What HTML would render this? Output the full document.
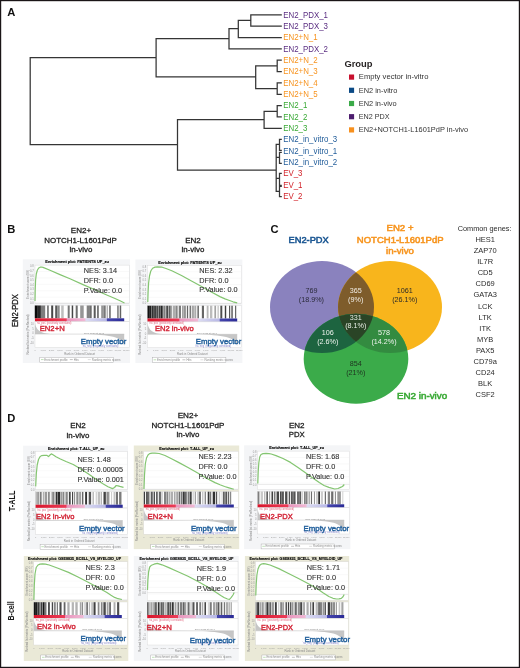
<!DOCTYPE html>
<html><head><meta charset="utf-8"><style>
html,body{margin:0;padding:0;background:#fff;}
svg{display:block;font-family:"Liberation Sans", sans-serif;filter:blur(0.3px);}
</style></head><body>
<svg width="520" height="668" viewBox="0 0 520 668">
<rect x="0" y="0" width="520" height="668" fill="#fff"/>
<path d="M30.20 57.50L30.20 144.70 M30.20 57.50L156.10 57.50 M30.20 144.70L177.50 144.70 M156.10 38.60L156.10 76.80 M156.10 38.60L229.00 38.60 M156.10 76.80L255.70 76.80 M229.00 28.50L229.00 48.85 M229.00 28.50L238.30 28.50 M229.00 48.85L281.20 48.85 M238.30 20.30L238.30 37.50 M238.30 20.30L250.80 20.30 M238.30 37.50L281.20 37.50 M250.80 14.80L250.80 26.15 M250.80 14.80L281.20 14.80 M250.80 26.15L281.20 26.15 M255.70 65.88L255.70 88.57 M255.70 65.88L277.20 65.88 M255.70 88.57L277.20 88.57 M277.20 60.20L277.20 71.55 M277.20 60.20L281.20 60.20 M277.20 71.55L281.20 71.55 M277.20 82.90L277.20 94.25 M277.20 82.90L281.20 82.90 M277.20 94.25L281.20 94.25 M177.50 119.50L177.50 170.00 M177.50 119.50L264.10 119.50 M177.50 170.00L276.20 170.00 M264.10 111.27L264.10 128.30 M264.10 111.27L277.20 111.27 M264.10 128.30L281.20 128.30 M277.20 105.60L277.20 116.95 M277.20 105.60L281.20 105.60 M277.20 116.95L281.20 116.95 M276.20 144.40L276.20 191.30 M276.20 144.40L279.50 144.40 M276.20 157.40L279.50 157.40 M276.20 178.40L279.50 178.40 M276.20 191.30L279.50 191.30 M279.50 139.30L279.50 150.30 M279.50 139.30L281.20 139.30 M279.50 150.30L281.20 150.30 M279.50 152.30L279.50 163.30 M279.50 152.30L281.20 152.30 M279.50 163.30L281.20 163.30 M279.50 173.40L279.50 185.30 M279.50 173.40L281.20 173.40 M279.50 185.30L281.20 185.30 M279.50 186.40L279.50 196.60 M279.50 186.40L281.20 186.40 M279.50 196.60L281.20 196.60" stroke="#353535" stroke-width="1.25" fill="none" stroke-linecap="square"/>
<text x="283.20" y="17.55" font-size="8.60" fill="#5a2d81" textLength="44.79" lengthAdjust="spacingAndGlyphs">EN2_PDX_1</text>
<text x="283.20" y="28.90" font-size="8.60" fill="#5a2d81" textLength="44.79" lengthAdjust="spacingAndGlyphs">EN2_PDX_3</text>
<text x="283.20" y="40.25" font-size="8.60" fill="#f7931e" textLength="34.47" lengthAdjust="spacingAndGlyphs">EN2+N_1</text>
<text x="283.20" y="51.60" font-size="8.60" fill="#5a2d81" textLength="44.79" lengthAdjust="spacingAndGlyphs">EN2_PDX_2</text>
<text x="283.20" y="62.95" font-size="8.60" fill="#f7931e" textLength="34.47" lengthAdjust="spacingAndGlyphs">EN2+N_2</text>
<text x="283.20" y="74.30" font-size="8.60" fill="#f7931e" textLength="34.47" lengthAdjust="spacingAndGlyphs">EN2+N_3</text>
<text x="283.20" y="85.65" font-size="8.60" fill="#f7931e" textLength="34.47" lengthAdjust="spacingAndGlyphs">EN2+N_4</text>
<text x="283.20" y="97.00" font-size="8.60" fill="#f7931e" textLength="34.47" lengthAdjust="spacingAndGlyphs">EN2+N_5</text>
<text x="283.20" y="108.35" font-size="8.60" fill="#39a935" textLength="24.15" lengthAdjust="spacingAndGlyphs">EN2_1</text>
<text x="283.20" y="119.70" font-size="8.60" fill="#39a935" textLength="24.15" lengthAdjust="spacingAndGlyphs">EN2_2</text>
<text x="283.20" y="131.05" font-size="8.60" fill="#39a935" textLength="24.15" lengthAdjust="spacingAndGlyphs">EN2_3</text>
<text x="283.20" y="142.40" font-size="8.60" fill="#1f5b99" textLength="54.01" lengthAdjust="spacingAndGlyphs">EN2_in_vitro_3</text>
<text x="283.20" y="153.75" font-size="8.60" fill="#1f5b99" textLength="54.01" lengthAdjust="spacingAndGlyphs">EN2_in_vitro_1</text>
<text x="283.20" y="165.10" font-size="8.60" fill="#1f5b99" textLength="54.01" lengthAdjust="spacingAndGlyphs">EN2_in_vitro_2</text>
<text x="283.20" y="176.45" font-size="8.60" fill="#d2232a" textLength="19.33" lengthAdjust="spacingAndGlyphs">EV_3</text>
<text x="283.20" y="187.80" font-size="8.60" fill="#d2232a" textLength="19.33" lengthAdjust="spacingAndGlyphs">EV_1</text>
<text x="283.20" y="199.15" font-size="8.60" fill="#d2232a" textLength="19.33" lengthAdjust="spacingAndGlyphs">EV_2</text>
<text x="344.40" y="67.10" font-size="9.40" fill="#231f20" font-weight="bold">Group</text>
<rect x="349" y="74.50" width="5.1" height="5.2" fill="#c8102e"/>
<text x="358.80" y="79.40" font-size="7.80" fill="#333" textLength="69.60" lengthAdjust="spacingAndGlyphs">Empty vector in-vitro</text>
<rect x="349" y="87.70" width="5.1" height="5.2" fill="#0b4a85"/>
<text x="358.80" y="92.60" font-size="7.80" fill="#333" textLength="38.60" lengthAdjust="spacingAndGlyphs">EN2 in-vitro</text>
<rect x="349" y="100.90" width="5.1" height="5.2" fill="#3aaa48"/>
<text x="358.80" y="105.80" font-size="7.80" fill="#333" textLength="37.80" lengthAdjust="spacingAndGlyphs">EN2 in-vivo</text>
<rect x="349" y="114.10" width="5.1" height="5.2" fill="#4d1d6e"/>
<text x="358.80" y="119.00" font-size="7.80" fill="#333" textLength="30.80" lengthAdjust="spacingAndGlyphs">EN2 PDX</text>
<rect x="349" y="127.30" width="5.1" height="5.2" fill="#f7901e"/>
<text x="358.80" y="132.20" font-size="7.80" fill="#333" textLength="109.30" lengthAdjust="spacingAndGlyphs">EN2+NOTCH1-L1601PdP in-vivo</text>
<text x="7.20" y="15.70" font-size="11.20" fill="#111" font-weight="bold">A</text>
<text x="7.20" y="233.40" font-size="11.20" fill="#111" font-weight="bold">B</text>
<text x="270.60" y="233.30" font-size="11.20" fill="#111" font-weight="bold">C</text>
<text x="7.30" y="422.00" font-size="11.20" fill="#111" font-weight="bold">D</text>
<text x="80.95" y="233.20" font-size="8.00" fill="#1a1a1a" textLength="20.30" lengthAdjust="spacingAndGlyphs" stroke="#1a1a1a" stroke-width="0.28" text-anchor="middle">EN2+</text>
<text x="80.50" y="242.80" font-size="8.00" fill="#1a1a1a" textLength="72.40" lengthAdjust="spacingAndGlyphs" stroke="#1a1a1a" stroke-width="0.28" text-anchor="middle">NOTCH1-L1601PdP</text>
<text x="80.85" y="252.30" font-size="8.00" fill="#1a1a1a" textLength="22.90" lengthAdjust="spacingAndGlyphs" stroke="#1a1a1a" stroke-width="0.28" text-anchor="middle">in-vivo</text>
<text x="193.00" y="242.80" font-size="8.00" fill="#1a1a1a" textLength="15.60" lengthAdjust="spacingAndGlyphs" stroke="#1a1a1a" stroke-width="0.28" text-anchor="middle">EN2</text>
<text x="193.00" y="252.30" font-size="8.00" fill="#1a1a1a" textLength="22.90" lengthAdjust="spacingAndGlyphs" stroke="#1a1a1a" stroke-width="0.28" text-anchor="middle">in-vivo</text>
<text x="78.00" y="428.00" font-size="8.00" fill="#1a1a1a" textLength="15.60" lengthAdjust="spacingAndGlyphs" stroke="#1a1a1a" stroke-width="0.28" text-anchor="middle">EN2</text>
<text x="78.00" y="437.50" font-size="8.00" fill="#1a1a1a" textLength="22.90" lengthAdjust="spacingAndGlyphs" stroke="#1a1a1a" stroke-width="0.28" text-anchor="middle">in-vivo</text>
<text x="188.00" y="418.40" font-size="8.00" fill="#1a1a1a" textLength="20.60" lengthAdjust="spacingAndGlyphs" stroke="#1a1a1a" stroke-width="0.28" text-anchor="middle">EN2+</text>
<text x="188.00" y="428.00" font-size="8.00" fill="#1a1a1a" textLength="72.80" lengthAdjust="spacingAndGlyphs" stroke="#1a1a1a" stroke-width="0.28" text-anchor="middle">NOTCH1-L1601PdP</text>
<text x="188.00" y="437.40" font-size="8.00" fill="#1a1a1a" textLength="22.90" lengthAdjust="spacingAndGlyphs" stroke="#1a1a1a" stroke-width="0.28" text-anchor="middle">in-vivo</text>
<text x="296.70" y="428.00" font-size="8.00" fill="#1a1a1a" textLength="15.60" lengthAdjust="spacingAndGlyphs" stroke="#1a1a1a" stroke-width="0.28" text-anchor="middle">EN2</text>
<text x="296.70" y="437.40" font-size="8.00" fill="#1a1a1a" textLength="15.90" lengthAdjust="spacingAndGlyphs" stroke="#1a1a1a" stroke-width="0.28" text-anchor="middle">PDX</text>
<text x="0" y="0" font-size="8.20" fill="#1a1a1a" stroke="#1a1a1a" stroke-width="0.30" text-anchor="middle" textLength="33.00" lengthAdjust="spacingAndGlyphs" transform="translate(17.50 310.60) rotate(-90)">EN2-PDX</text>
<text x="0" y="0" font-size="8.40" font-weight="bold" fill="#1a1a1a" stroke="#1a1a1a" stroke-width="0.05" text-anchor="middle" textLength="20.60" lengthAdjust="spacingAndGlyphs" transform="translate(14.60 500.90) rotate(-90)">T-ALL</text>
<text x="0" y="0" font-size="8.40" font-weight="bold" fill="#1a1a1a" stroke="#1a1a1a" stroke-width="0.05" text-anchor="middle" textLength="19.20" lengthAdjust="spacingAndGlyphs" transform="translate(14.30 610.90) rotate(-90)">B-cell</text>
<defs><clipPath id="cP"><ellipse cx="322" cy="307" rx="52" ry="46"/></clipPath><clipPath id="cO"><ellipse cx="390" cy="307" rx="52" ry="46"/></clipPath></defs>
<ellipse cx="322" cy="307" rx="52" ry="46" fill="#8a82be"/>
<ellipse cx="390" cy="307" rx="52" ry="46" fill="#f8b51c"/>
<ellipse cx="356" cy="358.7" rx="52.3" ry="45" fill="#3bab4a"/>
<g clip-path="url(#cP)"><ellipse cx="390" cy="307" rx="52" ry="46" fill="#7e5c2b"/><ellipse cx="356" cy="358.7" rx="52.3" ry="45" fill="#1d6440"/></g>
<g clip-path="url(#cO)"><ellipse cx="356" cy="358.7" rx="52.3" ry="45" fill="#338b40"/></g>
<g clip-path="url(#cO)"><g clip-path="url(#cP)"><ellipse cx="356" cy="358.7" rx="52.3" ry="45" fill="#2a4426"/></g></g>
<text x="311.40" y="293.30" font-size="7.20" fill="#2a2a3a" text-anchor="middle">769</text>
<text x="311.40" y="302.10" font-size="7.20" fill="#2a2a3a" text-anchor="middle">(18.9%)</text>
<text x="355.70" y="293.30" font-size="7.20" fill="#f2eee6" text-anchor="middle">365</text>
<text x="355.70" y="302.10" font-size="7.20" fill="#f2eee6" text-anchor="middle">(9%)</text>
<text x="404.80" y="293.10" font-size="7.20" fill="#2a2a2a" text-anchor="middle">1061</text>
<text x="404.80" y="301.90" font-size="7.20" fill="#2a2a2a" text-anchor="middle">(26.1%)</text>
<text x="355.80" y="319.60" font-size="7.20" fill="#e8efe6" text-anchor="middle">331</text>
<text x="355.80" y="328.40" font-size="7.20" fill="#e8efe6" text-anchor="middle">(8.1%)</text>
<text x="327.80" y="335.00" font-size="7.20" fill="#eef3ee" text-anchor="middle">106</text>
<text x="327.80" y="343.80" font-size="7.20" fill="#eef3ee" text-anchor="middle">(2.6%)</text>
<text x="384.00" y="335.00" font-size="7.20" fill="#eef3ee" text-anchor="middle">578</text>
<text x="384.00" y="343.80" font-size="7.20" fill="#eef3ee" text-anchor="middle">(14.2%)</text>
<text x="355.80" y="366.00" font-size="7.20" fill="#1f3320" text-anchor="middle">854</text>
<text x="355.80" y="374.80" font-size="7.20" fill="#1f3320" text-anchor="middle">(21%)</text>
<text x="308.60" y="243.00" font-size="9.40" fill="#1a5692" textLength="40.20" lengthAdjust="spacingAndGlyphs" stroke="#1a5692" stroke-width="0.55" text-anchor="middle">EN2-PDX</text>
<text x="400.00" y="231.20" font-size="9.60" fill="#f7941d" textLength="27.10" lengthAdjust="spacingAndGlyphs" stroke="#f7941d" stroke-width="0.55" text-anchor="middle">EN2 +</text>
<text x="400.20" y="242.50" font-size="9.60" fill="#f7941d" textLength="86.70" lengthAdjust="spacingAndGlyphs" stroke="#f7941d" stroke-width="0.55" text-anchor="middle">NOTCH1-L1601PdP</text>
<text x="400.00" y="253.50" font-size="9.60" fill="#f7941d" textLength="27.90" lengthAdjust="spacingAndGlyphs" stroke="#f7941d" stroke-width="0.55" text-anchor="middle">in-vivo</text>
<text x="396.90" y="398.80" font-size="9.60" fill="#39a935" textLength="50.30" lengthAdjust="spacingAndGlyphs" stroke="#39a935" stroke-width="0.55">EN2 in-vivo</text>
<text x="484.60" y="231.30" font-size="7.90" fill="#2b2b2b" textLength="53.92" lengthAdjust="spacingAndGlyphs" text-anchor="middle">Common genes:</text>
<text x="485.20" y="242.10" font-size="8.10" fill="#2b2b2b" textLength="19.59" lengthAdjust="spacingAndGlyphs" text-anchor="middle">HES1</text>
<text x="485.20" y="253.17" font-size="8.10" fill="#2b2b2b" textLength="22.93" lengthAdjust="spacingAndGlyphs" text-anchor="middle">ZAP70</text>
<text x="485.20" y="264.24" font-size="8.10" fill="#2b2b2b" textLength="15.84" lengthAdjust="spacingAndGlyphs" text-anchor="middle">IL7R</text>
<text x="485.20" y="275.31" font-size="8.10" fill="#2b2b2b" textLength="15.00" lengthAdjust="spacingAndGlyphs" text-anchor="middle">CD5</text>
<text x="485.20" y="286.38" font-size="8.10" fill="#2b2b2b" textLength="19.17" lengthAdjust="spacingAndGlyphs" text-anchor="middle">CD69</text>
<text x="485.20" y="297.45" font-size="8.10" fill="#2b2b2b" textLength="23.48" lengthAdjust="spacingAndGlyphs" text-anchor="middle">GATA3</text>
<text x="485.20" y="308.52" font-size="8.10" fill="#2b2b2b" textLength="14.59" lengthAdjust="spacingAndGlyphs" text-anchor="middle">LCK</text>
<text x="485.20" y="319.59" font-size="8.10" fill="#2b2b2b" textLength="13.20" lengthAdjust="spacingAndGlyphs" text-anchor="middle">LTK</text>
<text x="485.20" y="330.66" font-size="8.10" fill="#2b2b2b" textLength="11.67" lengthAdjust="spacingAndGlyphs" text-anchor="middle">ITK</text>
<text x="485.20" y="341.73" font-size="8.10" fill="#2b2b2b" textLength="16.25" lengthAdjust="spacingAndGlyphs" text-anchor="middle">MYB</text>
<text x="485.20" y="352.80" font-size="8.10" fill="#2b2b2b" textLength="18.62" lengthAdjust="spacingAndGlyphs" text-anchor="middle">PAX5</text>
<text x="485.20" y="363.87" font-size="8.10" fill="#2b2b2b" textLength="23.34" lengthAdjust="spacingAndGlyphs" text-anchor="middle">CD79a</text>
<text x="485.20" y="374.94" font-size="8.10" fill="#2b2b2b" textLength="19.17" lengthAdjust="spacingAndGlyphs" text-anchor="middle">CD24</text>
<text x="485.20" y="386.01" font-size="8.10" fill="#2b2b2b" textLength="14.18" lengthAdjust="spacingAndGlyphs" text-anchor="middle">BLK</text>
<text x="485.20" y="397.08" font-size="8.10" fill="#2b2b2b" textLength="19.17" lengthAdjust="spacingAndGlyphs" text-anchor="middle">CSF2</text>
<defs><linearGradient id="grad" x1="0" x2="1" y1="0" y2="0"><stop offset="0" stop-color="#d8142a"/><stop offset="0.35" stop-color="#ec3c58"/><stop offset="0.36" stop-color="#e894bc"/><stop offset="0.56" stop-color="#f0b8d4"/><stop offset="0.57" stop-color="#dcdcf2"/><stop offset="0.8" stop-color="#b8b8e6"/><stop offset="0.81" stop-color="#4646ae"/><stop offset="1" stop-color="#2a2a96"/></linearGradient></defs>
<rect x="22.80" y="259.30" width="107.20" height="103.70" fill="#f4f5f7"/>
<rect x="35.00" y="265.10" width="94.20" height="38.50" fill="#fff" stroke="#d4d4d4" stroke-width="0.4"/>
<line x1="35.00" y1="271.52" x2="129.20" y2="271.52" stroke="#f0f0f0" stroke-width="0.4"/>
<line x1="35.00" y1="277.93" x2="129.20" y2="277.93" stroke="#f0f0f0" stroke-width="0.4"/>
<line x1="35.00" y1="284.35" x2="129.20" y2="284.35" stroke="#f0f0f0" stroke-width="0.4"/>
<line x1="35.00" y1="290.77" x2="129.20" y2="290.77" stroke="#f0f0f0" stroke-width="0.4"/>
<line x1="35.00" y1="297.18" x2="129.20" y2="297.18" stroke="#f0f0f0" stroke-width="0.4"/>
<line x1="35.00" y1="303.10" x2="129.20" y2="303.10" stroke="#cfcfcf" stroke-width="0.4"/>
<text x="33.80" y="267.30" font-size="2.70" fill="#999" text-anchor="end">0.8</text>
<text x="33.80" y="271.90" font-size="2.70" fill="#999" text-anchor="end">0.7</text>
<text x="33.80" y="276.50" font-size="2.70" fill="#999" text-anchor="end">0.6</text>
<text x="33.80" y="281.10" font-size="2.70" fill="#999" text-anchor="end">0.5</text>
<text x="33.80" y="285.70" font-size="2.70" fill="#999" text-anchor="end">0.4</text>
<text x="33.80" y="290.30" font-size="2.70" fill="#999" text-anchor="end">0.3</text>
<text x="33.80" y="294.90" font-size="2.70" fill="#999" text-anchor="end">0.2</text>
<text x="33.80" y="299.50" font-size="2.70" fill="#999" text-anchor="end">0.1</text>
<text x="33.80" y="304.10" font-size="2.70" fill="#999" text-anchor="end">0.0</text>
<text x="0" y="0" font-size="2.9" fill="#888" text-anchor="middle" transform="translate(28.90 284.35) rotate(-90)">Enrichment score (ES)</text>
<text x="77.10" y="263.40" font-size="4.40" fill="#000" textLength="63.60" lengthAdjust="spacingAndGlyphs" stroke="#000" stroke-width="0.15" font-weight="bold" text-anchor="middle">Enrichment plot: PATIENTS UP_zu</text>
<polyline points="35.00,301.00 35.20,290.00 35.60,280.00 36.30,274.00 37.30,270.30 38.70,268.00 40.20,267.20 41.50,267.00 43.00,267.40 50.00,270.30 60.00,274.60 70.00,278.80 83.00,284.60 95.00,289.80 105.00,294.20 115.00,298.50 120.00,300.80 124.50,303.00" fill="none" stroke="#84c571" stroke-width="1.2" stroke-linejoin="round"/>
<text x="83.80" y="272.90" font-size="7.80" fill="#333" textLength="33.27" lengthAdjust="spacingAndGlyphs" stroke="#333" stroke-width="0.12">NES: 3.14</text>
<text x="83.80" y="282.70" font-size="7.80" fill="#333" textLength="29.21" lengthAdjust="spacingAndGlyphs" stroke="#333" stroke-width="0.12">DFR: 0.0</text>
<text x="83.80" y="292.50" font-size="7.80" fill="#333" textLength="38.29" lengthAdjust="spacingAndGlyphs" stroke="#333" stroke-width="0.12">P.Value: 0.0</text>
<rect x="35.00" y="305.30" width="94.20" height="16.20" fill="#fff" stroke="#d4d4d4" stroke-width="0.4"/>
<rect x="34.80" y="305.50" width="3.00" height="12.80" fill="rgb(10,10,10)"/>
<rect x="37.80" y="305.50" width="3.10" height="12.80" fill="rgb(40,40,40)"/>
<rect x="40.90" y="305.50" width="4.30" height="12.80" fill="rgb(125,125,125)"/>
<rect x="47.20" y="305.50" width="1.50" height="12.80" fill="rgb(100,100,100)"/>
<rect x="51.20" y="305.50" width="2.00" height="12.80" fill="rgb(70,70,70)"/>
<rect x="55.20" y="305.50" width="2.00" height="12.80" fill="rgb(90,90,90)"/>
<rect x="57.20" y="305.50" width="2.50" height="12.80" fill="rgb(140,140,140)"/>
<rect x="61.20" y="305.50" width="2.50" height="12.80" fill="rgb(190,190,190)"/>
<rect x="67.70" y="305.50" width="2.00" height="12.80" fill="rgb(120,120,120)"/>
<rect x="71.70" y="305.50" width="1.50" height="12.80" fill="rgb(70,70,70)"/>
<rect x="75.70" y="305.50" width="2.00" height="12.80" fill="rgb(110,110,110)"/>
<rect x="80.20" y="305.50" width="3.50" height="12.80" fill="rgb(150,150,150)"/>
<rect x="86.70" y="305.50" width="2.50" height="12.80" fill="rgb(130,130,130)"/>
<rect x="89.20" y="305.50" width="2.50" height="12.80" fill="rgb(110,110,110)"/>
<rect x="93.70" y="305.50" width="2.00" height="12.80" fill="rgb(90,90,90)"/>
<rect x="97.20" y="305.50" width="1.50" height="12.80" fill="rgb(90,90,90)"/>
<rect x="101.20" y="305.50" width="2.20" height="12.80" fill="rgb(150,150,150)"/>
<rect x="103.40" y="305.50" width="2.30" height="12.80" fill="rgb(120,120,120)"/>
<rect x="106.70" y="305.50" width="1.00" height="12.80" fill="rgb(150,150,150)"/>
<rect x="109.20" y="305.50" width="1.50" height="12.80" fill="rgb(100,100,100)"/>
<rect x="117.20" y="305.50" width="1.50" height="12.80" fill="rgb(120,120,120)"/>
<rect x="119.70" y="305.50" width="1.50" height="12.80" fill="rgb(100,100,100)"/>
<rect x="35.00" y="318.30" width="89.20" height="3.20" fill="url(#grad)"/>
<rect x="35.00" y="321.70" width="94.20" height="25.60" fill="#fff" stroke="#d4d4d4" stroke-width="0.4"/>
<path d="M35.00 322.30 Q35.80 333.50 50.16 333.90 L82.28 334.10 C110.82 334.90 122.42 336.60 124.20 346.10 L124.20 334.10 L35.00 334.10 Z" fill="#c6c6c6"/>
<line x1="35.00" y1="334.10" x2="124.20" y2="334.10" stroke="#bdbdbd" stroke-width="0.5"/>
<text x="33.80" y="324.90" font-size="2.70" fill="#999" text-anchor="end">10</text>
<text x="33.80" y="329.60" font-size="2.70" fill="#999" text-anchor="end">5</text>
<text x="33.80" y="334.30" font-size="2.70" fill="#999" text-anchor="end">0</text>
<text x="33.80" y="339.00" font-size="2.70" fill="#999" text-anchor="end">-5</text>
<text x="33.80" y="343.70" font-size="2.70" fill="#999" text-anchor="end">-10</text>
<text x="0" y="0" font-size="2.9" fill="#888" text-anchor="middle" transform="translate(28.90 334.50) rotate(-90)">Ranked list metric (PreRanked)</text>
<text x="36.50" y="324.10" font-size="2.60" fill="#e0607a">'na_pos' (positively correlated)</text>
<text x="84.06" y="333.50" font-size="2.40" fill="#888">Zero cross at 6747</text>
<text x="82.28" y="346.70" font-size="2.60" fill="#8080c8">'na_neg' (negatively correlated)</text>
<text x="39.70" y="331.30" font-size="7.90" fill="#d42a3c" textLength="25.00" lengthAdjust="spacingAndGlyphs" stroke="#d42a3c" stroke-width="0.42">EN2+N</text>
<text x="126.30" y="344.00" font-size="7.80" fill="#22609c" textLength="45.60" lengthAdjust="spacingAndGlyphs" stroke="#22609c" stroke-width="0.42" text-anchor="end">Empty vector</text>
<text x="35.00" y="351.10" font-size="2.20" fill="#999" text-anchor="middle">0</text>
<text x="43.29" y="351.10" font-size="2.20" fill="#999" text-anchor="middle">1,000</text>
<text x="51.58" y="351.10" font-size="2.20" fill="#999" text-anchor="middle">2,000</text>
<text x="59.87" y="351.10" font-size="2.20" fill="#999" text-anchor="middle">3,000</text>
<text x="68.16" y="351.10" font-size="2.20" fill="#999" text-anchor="middle">4,000</text>
<text x="76.45" y="351.10" font-size="2.20" fill="#999" text-anchor="middle">5,000</text>
<text x="84.75" y="351.10" font-size="2.20" fill="#999" text-anchor="middle">6,000</text>
<text x="93.04" y="351.10" font-size="2.20" fill="#999" text-anchor="middle">7,000</text>
<text x="101.33" y="351.10" font-size="2.20" fill="#999" text-anchor="middle">8,000</text>
<text x="109.62" y="351.10" font-size="2.20" fill="#999" text-anchor="middle">9,000</text>
<text x="117.91" y="351.10" font-size="2.20" fill="#999" text-anchor="middle">10,000</text>
<text x="126.20" y="351.10" font-size="2.20" fill="#999" text-anchor="middle">11,000</text>
<text x="79.60" y="354.50" font-size="2.80" fill="#888" text-anchor="middle">Rank in Ordered Dataset</text>
<rect x="39.80" y="357.30" width="73.50" height="4.9" fill="#fff" stroke="#a0a0a0" stroke-width="0.4"/>
<line x1="41.00" y1="359.60" x2="43.60" y2="359.60" stroke="#7fc46e" stroke-width="0.5"/>
<text x="44.30" y="360.70" font-size="2.90" fill="#8a8a8a">Enrichment profile</text>
<line x1="69.80" y1="359.60" x2="72.80" y2="359.60" stroke="#666" stroke-width="0.4"/>
<text x="73.80" y="360.70" font-size="2.90" fill="#8a8a8a">Hits</text>
<line x1="87.80" y1="359.60" x2="90.80" y2="359.60" stroke="#aaa" stroke-width="0.4"/>
<text x="91.80" y="360.70" font-size="2.90" fill="#8a8a8a">Ranking metric scores</text>
<rect x="135.40" y="259.50" width="107.00" height="103.50" fill="#f4f5f7"/>
<rect x="147.50" y="265.30" width="94.10" height="38.50" fill="#fff" stroke="#d4d4d4" stroke-width="0.4"/>
<line x1="147.50" y1="271.72" x2="241.60" y2="271.72" stroke="#f0f0f0" stroke-width="0.4"/>
<line x1="147.50" y1="278.13" x2="241.60" y2="278.13" stroke="#f0f0f0" stroke-width="0.4"/>
<line x1="147.50" y1="284.55" x2="241.60" y2="284.55" stroke="#f0f0f0" stroke-width="0.4"/>
<line x1="147.50" y1="290.97" x2="241.60" y2="290.97" stroke="#f0f0f0" stroke-width="0.4"/>
<line x1="147.50" y1="297.38" x2="241.60" y2="297.38" stroke="#f0f0f0" stroke-width="0.4"/>
<line x1="147.50" y1="303.30" x2="241.60" y2="303.30" stroke="#cfcfcf" stroke-width="0.4"/>
<text x="146.30" y="267.50" font-size="2.70" fill="#999" text-anchor="end">0.8</text>
<text x="146.30" y="272.10" font-size="2.70" fill="#999" text-anchor="end">0.7</text>
<text x="146.30" y="276.70" font-size="2.70" fill="#999" text-anchor="end">0.6</text>
<text x="146.30" y="281.30" font-size="2.70" fill="#999" text-anchor="end">0.5</text>
<text x="146.30" y="285.90" font-size="2.70" fill="#999" text-anchor="end">0.4</text>
<text x="146.30" y="290.50" font-size="2.70" fill="#999" text-anchor="end">0.3</text>
<text x="146.30" y="295.10" font-size="2.70" fill="#999" text-anchor="end">0.2</text>
<text x="146.30" y="299.70" font-size="2.70" fill="#999" text-anchor="end">0.1</text>
<text x="146.30" y="304.30" font-size="2.70" fill="#999" text-anchor="end">0.0</text>
<text x="0" y="0" font-size="2.9" fill="#888" text-anchor="middle" transform="translate(141.40 284.55) rotate(-90)">Enrichment score (ES)</text>
<text x="190.00" y="263.60" font-size="4.40" fill="#000" textLength="63.40" lengthAdjust="spacingAndGlyphs" stroke="#000" stroke-width="0.15" font-weight="bold" text-anchor="middle">Enrichment plot: PATIENTS UP_zu</text>
<polyline points="147.80,302.00 148.10,292.00 148.60,283.00 149.50,276.00 150.80,271.00 152.60,268.20 155.00,267.10 157.40,266.80 162.20,267.20 166.00,268.50 171.80,270.70 181.50,275.50 191.00,280.70 200.70,286.00 210.00,291.30 219.90,296.60 225.00,298.90 229.50,300.50 233.00,301.80 237.20,302.80" fill="none" stroke="#84c571" stroke-width="1.2" stroke-linejoin="round"/>
<text x="199.30" y="273.30" font-size="7.80" fill="#333" textLength="33.27" lengthAdjust="spacingAndGlyphs" stroke="#333" stroke-width="0.12">NES: 2.32</text>
<text x="199.30" y="282.60" font-size="7.80" fill="#333" textLength="29.21" lengthAdjust="spacingAndGlyphs" stroke="#333" stroke-width="0.12">DFR: 0.0</text>
<text x="199.30" y="292.40" font-size="7.80" fill="#333" textLength="38.29" lengthAdjust="spacingAndGlyphs" stroke="#333" stroke-width="0.12">P.Value: 0.0</text>
<rect x="147.50" y="305.50" width="94.10" height="16.20" fill="#fff" stroke="#d4d4d4" stroke-width="0.4"/>
<rect x="147.50" y="305.70" width="2.33" height="12.80" fill="rgb(17,17,17)"/>
<rect x="149.86" y="305.70" width="1.44" height="12.80" fill="rgb(31,31,31)"/>
<rect x="151.52" y="305.70" width="1.90" height="12.80" fill="rgb(49,49,49)"/>
<rect x="153.50" y="305.70" width="1.22" height="12.80" fill="rgb(14,14,14)"/>
<rect x="154.90" y="305.70" width="1.14" height="12.80" fill="rgb(65,65,65)"/>
<rect x="156.23" y="305.70" width="2.11" height="12.80" fill="rgb(75,75,75)"/>
<rect x="158.62" y="305.70" width="1.72" height="12.80" fill="rgb(66,66,66)"/>
<rect x="160.48" y="305.70" width="2.25" height="12.80" fill="rgb(37,37,37)"/>
<rect x="163.28" y="305.70" width="2.30" height="12.80" fill="rgb(127,127,127)"/>
<rect x="166.21" y="305.70" width="2.23" height="12.80" fill="rgb(72,72,72)"/>
<rect x="169.28" y="305.70" width="1.25" height="12.80" fill="rgb(36,36,36)"/>
<rect x="170.80" y="305.70" width="1.16" height="12.80" fill="rgb(160,160,160)"/>
<rect x="172.73" y="305.70" width="2.40" height="12.80" fill="rgb(173,173,173)"/>
<rect x="175.40" y="305.70" width="2.24" height="12.80" fill="rgb(136,136,136)"/>
<rect x="178.74" y="305.70" width="2.26" height="12.80" fill="rgb(123,123,123)"/>
<rect x="182.18" y="305.70" width="1.43" height="12.80" fill="rgb(144,144,144)"/>
<rect x="183.86" y="305.70" width="2.03" height="12.80" fill="rgb(148,148,148)"/>
<rect x="186.87" y="305.70" width="1.27" height="12.80" fill="rgb(101,101,101)"/>
<rect x="189.53" y="305.70" width="1.65" height="12.80" fill="rgb(120,120,120)"/>
<rect x="192.17" y="305.70" width="1.58" height="12.80" fill="rgb(148,148,148)"/>
<rect x="194.28" y="305.70" width="1.99" height="12.80" fill="rgb(172,172,172)"/>
<rect x="197.36" y="305.70" width="1.63" height="12.80" fill="rgb(116,116,116)"/>
<rect x="201.86" y="305.70" width="2.12" height="12.80" fill="rgb(102,102,102)"/>
<rect x="206.71" y="305.70" width="1.82" height="12.80" fill="rgb(182,182,182)"/>
<rect x="210.01" y="305.70" width="2.34" height="12.80" fill="rgb(189,189,189)"/>
<rect x="214.39" y="305.70" width="1.66" height="12.80" fill="rgb(164,164,164)"/>
<rect x="217.53" y="305.70" width="1.21" height="12.80" fill="rgb(191,191,191)"/>
<rect x="220.35" y="305.70" width="1.93" height="12.80" fill="rgb(79,79,79)"/>
<rect x="224.80" y="305.70" width="1.41" height="12.80" fill="rgb(62,62,62)"/>
<rect x="229.01" y="305.70" width="1.19" height="12.80" fill="rgb(87,87,87)"/>
<rect x="231.13" y="305.70" width="1.88" height="12.80" fill="rgb(129,129,129)"/>
<rect x="235.11" y="305.70" width="1.09" height="12.80" fill="rgb(87,87,87)"/>
<rect x="147.50" y="318.50" width="89.70" height="3.20" fill="url(#grad)"/>
<rect x="147.50" y="321.90" width="94.10" height="25.60" fill="#fff" stroke="#d4d4d4" stroke-width="0.4"/>
<path d="M147.50 322.50 Q148.30 333.70 162.75 334.10 L195.04 334.30 C223.75 335.10 235.41 336.80 237.20 346.30 L237.20 334.30 L147.50 334.30 Z" fill="#c6c6c6"/>
<line x1="147.50" y1="334.30" x2="237.20" y2="334.30" stroke="#bdbdbd" stroke-width="0.5"/>
<text x="146.30" y="325.10" font-size="2.70" fill="#999" text-anchor="end">10</text>
<text x="146.30" y="329.80" font-size="2.70" fill="#999" text-anchor="end">5</text>
<text x="146.30" y="334.50" font-size="2.70" fill="#999" text-anchor="end">0</text>
<text x="146.30" y="339.20" font-size="2.70" fill="#999" text-anchor="end">-5</text>
<text x="146.30" y="343.90" font-size="2.70" fill="#999" text-anchor="end">-10</text>
<text x="0" y="0" font-size="2.9" fill="#888" text-anchor="middle" transform="translate(141.40 334.70) rotate(-90)">Ranked list metric (PreRanked)</text>
<text x="149.00" y="324.30" font-size="2.60" fill="#e0607a">'na_pos' (positively correlated)</text>
<text x="196.84" y="333.70" font-size="2.40" fill="#888">Zero cross at 6747</text>
<text x="195.04" y="346.90" font-size="2.60" fill="#8080c8">'na_neg' (negatively correlated)</text>
<text x="154.90" y="330.80" font-size="7.90" fill="#d42a3c" textLength="38.90" lengthAdjust="spacingAndGlyphs" stroke="#d42a3c" stroke-width="0.42">EN2 in-vivo</text>
<text x="241.30" y="344.00" font-size="7.80" fill="#22609c" textLength="45.60" lengthAdjust="spacingAndGlyphs" stroke="#22609c" stroke-width="0.42" text-anchor="end">Empty vector</text>
<text x="147.50" y="351.30" font-size="2.20" fill="#999" text-anchor="middle">0</text>
<text x="155.84" y="351.30" font-size="2.20" fill="#999" text-anchor="middle">1,000</text>
<text x="164.17" y="351.30" font-size="2.20" fill="#999" text-anchor="middle">2,000</text>
<text x="172.51" y="351.30" font-size="2.20" fill="#999" text-anchor="middle">3,000</text>
<text x="180.85" y="351.30" font-size="2.20" fill="#999" text-anchor="middle">4,000</text>
<text x="189.18" y="351.30" font-size="2.20" fill="#999" text-anchor="middle">5,000</text>
<text x="197.52" y="351.30" font-size="2.20" fill="#999" text-anchor="middle">6,000</text>
<text x="205.85" y="351.30" font-size="2.20" fill="#999" text-anchor="middle">7,000</text>
<text x="214.19" y="351.30" font-size="2.20" fill="#999" text-anchor="middle">8,000</text>
<text x="222.53" y="351.30" font-size="2.20" fill="#999" text-anchor="middle">9,000</text>
<text x="230.86" y="351.30" font-size="2.20" fill="#999" text-anchor="middle">10,000</text>
<text x="239.20" y="351.30" font-size="2.20" fill="#999" text-anchor="middle">11,000</text>
<text x="192.35" y="354.70" font-size="2.80" fill="#888" text-anchor="middle">Rank in Ordered Dataset</text>
<rect x="152.40" y="357.50" width="73.50" height="4.9" fill="#fff" stroke="#a0a0a0" stroke-width="0.4"/>
<line x1="153.60" y1="359.80" x2="156.20" y2="359.80" stroke="#7fc46e" stroke-width="0.5"/>
<text x="156.90" y="360.90" font-size="2.90" fill="#8a8a8a">Enrichment profile</text>
<line x1="182.40" y1="359.80" x2="185.40" y2="359.80" stroke="#666" stroke-width="0.4"/>
<text x="186.40" y="360.90" font-size="2.90" fill="#8a8a8a">Hits</text>
<line x1="200.40" y1="359.80" x2="203.40" y2="359.80" stroke="#aaa" stroke-width="0.4"/>
<text x="204.40" y="360.90" font-size="2.90" fill="#8a8a8a">Ranking metric scores</text>
<rect x="23.10" y="445.70" width="104.90" height="103.40" fill="#f4f5f7"/>
<rect x="35.60" y="451.50" width="91.60" height="38.50" fill="#fff" stroke="#d4d4d4" stroke-width="0.4"/>
<line x1="35.60" y1="457.92" x2="127.20" y2="457.92" stroke="#f0f0f0" stroke-width="0.4"/>
<line x1="35.60" y1="464.33" x2="127.20" y2="464.33" stroke="#f0f0f0" stroke-width="0.4"/>
<line x1="35.60" y1="470.75" x2="127.20" y2="470.75" stroke="#f0f0f0" stroke-width="0.4"/>
<line x1="35.60" y1="477.17" x2="127.20" y2="477.17" stroke="#f0f0f0" stroke-width="0.4"/>
<line x1="35.60" y1="483.58" x2="127.20" y2="483.58" stroke="#f0f0f0" stroke-width="0.4"/>
<line x1="35.60" y1="489.50" x2="127.20" y2="489.50" stroke="#cfcfcf" stroke-width="0.4"/>
<text x="34.40" y="453.70" font-size="2.70" fill="#999" text-anchor="end">0.8</text>
<text x="34.40" y="458.30" font-size="2.70" fill="#999" text-anchor="end">0.7</text>
<text x="34.40" y="462.90" font-size="2.70" fill="#999" text-anchor="end">0.6</text>
<text x="34.40" y="467.50" font-size="2.70" fill="#999" text-anchor="end">0.5</text>
<text x="34.40" y="472.10" font-size="2.70" fill="#999" text-anchor="end">0.4</text>
<text x="34.40" y="476.70" font-size="2.70" fill="#999" text-anchor="end">0.3</text>
<text x="34.40" y="481.30" font-size="2.70" fill="#999" text-anchor="end">0.2</text>
<text x="34.40" y="485.90" font-size="2.70" fill="#999" text-anchor="end">0.1</text>
<text x="34.40" y="490.50" font-size="2.70" fill="#999" text-anchor="end">0.0</text>
<text x="0" y="0" font-size="2.9" fill="#888" text-anchor="middle" transform="translate(29.50 470.75) rotate(-90)">Enrichment score (ES)</text>
<text x="76.20" y="449.80" font-size="4.40" fill="#000" textLength="56.50" lengthAdjust="spacingAndGlyphs" stroke="#000" stroke-width="0.15" font-weight="bold" text-anchor="middle">Enrichment plot: T-ALL_UP_zu</text>
<polyline points="35.70,486.40 36.30,474.00 37.20,465.00 38.50,459.50 40.00,456.80 41.50,455.60 44.00,455.40 46.70,455.30 48.50,456.60 50.00,455.00 51.30,453.90 53.00,454.80 56.00,456.80 60.40,459.00 66.00,461.50 73.20,464.50 80.00,468.50 87.80,473.60 95.00,478.50 102.50,483.60 108.00,486.80 112.50,488.60 114.50,487.50 116.20,485.50 118.00,485.90 119.80,486.40 123.50,487.30" fill="none" stroke="#84c571" stroke-width="1.2" stroke-linejoin="round"/>
<text x="77.50" y="462.40" font-size="7.80" fill="#333" textLength="33.27" lengthAdjust="spacingAndGlyphs" stroke="#333" stroke-width="0.12">NES: 1.48</text>
<text x="77.50" y="472.20" font-size="7.80" fill="#333" textLength="45.44" lengthAdjust="spacingAndGlyphs" stroke="#333" stroke-width="0.12">DFR: 0.00005</text>
<text x="77.50" y="481.70" font-size="7.80" fill="#333" textLength="46.41" lengthAdjust="spacingAndGlyphs" stroke="#333" stroke-width="0.12">P.Value: 0.001</text>
<rect x="35.60" y="491.70" width="91.60" height="16.20" fill="#fff" stroke="#d4d4d4" stroke-width="0.4"/>
<rect x="35.60" y="491.90" width="1.26" height="12.80" fill="rgb(174,174,174)"/>
<rect x="37.14" y="491.90" width="2.27" height="12.80" fill="rgb(156,156,156)"/>
<rect x="40.39" y="491.90" width="1.00" height="12.80" fill="rgb(38,38,38)"/>
<rect x="42.76" y="491.90" width="1.60" height="12.80" fill="rgb(176,176,176)"/>
<rect x="44.79" y="491.90" width="2.39" height="12.80" fill="rgb(155,155,155)"/>
<rect x="48.04" y="491.90" width="1.72" height="12.80" fill="rgb(136,136,136)"/>
<rect x="50.76" y="491.90" width="1.13" height="12.80" fill="rgb(197,197,197)"/>
<rect x="52.20" y="491.90" width="2.29" height="12.80" fill="rgb(134,134,134)"/>
<rect x="55.63" y="491.90" width="1.91" height="12.80" fill="rgb(51,51,51)"/>
<rect x="57.86" y="491.90" width="2.34" height="12.80" fill="rgb(45,45,45)"/>
<rect x="60.71" y="491.90" width="0.95" height="12.80" fill="rgb(103,103,103)"/>
<rect x="62.42" y="491.90" width="1.98" height="12.80" fill="rgb(134,134,134)"/>
<rect x="65.50" y="491.90" width="2.28" height="12.80" fill="rgb(136,136,136)"/>
<rect x="68.90" y="491.90" width="1.77" height="12.80" fill="rgb(69,69,69)"/>
<rect x="72.00" y="491.90" width="1.05" height="12.80" fill="rgb(69,69,69)"/>
<rect x="73.84" y="491.90" width="1.29" height="12.80" fill="rgb(146,146,146)"/>
<rect x="76.31" y="491.90" width="2.18" height="12.80" fill="rgb(142,142,142)"/>
<rect x="79.31" y="491.90" width="1.48" height="12.80" fill="rgb(134,134,134)"/>
<rect x="81.89" y="491.90" width="1.51" height="12.80" fill="rgb(104,104,104)"/>
<rect x="85.14" y="491.90" width="1.92" height="12.80" fill="rgb(52,52,52)"/>
<rect x="88.72" y="491.90" width="2.39" height="12.80" fill="rgb(86,86,86)"/>
<rect x="92.50" y="491.90" width="1.39" height="12.80" fill="rgb(183,183,183)"/>
<rect x="95.62" y="491.90" width="1.75" height="12.80" fill="rgb(212,212,212)"/>
<rect x="97.94" y="491.90" width="2.15" height="12.80" fill="rgb(191,191,191)"/>
<rect x="100.74" y="491.90" width="1.09" height="12.80" fill="rgb(168,168,168)"/>
<rect x="103.48" y="491.90" width="2.38" height="12.80" fill="rgb(67,67,67)"/>
<rect x="106.65" y="491.90" width="1.00" height="12.80" fill="rgb(83,83,83)"/>
<rect x="107.88" y="491.90" width="1.54" height="12.80" fill="rgb(151,151,151)"/>
<rect x="111.10" y="491.90" width="0.97" height="12.80" fill="rgb(202,202,202)"/>
<rect x="113.57" y="491.90" width="1.47" height="12.80" fill="rgb(195,195,195)"/>
<rect x="115.79" y="491.90" width="2.22" height="12.80" fill="rgb(116,116,116)"/>
<rect x="119.08" y="491.90" width="2.40" height="12.80" fill="rgb(124,124,124)"/>
<rect x="121.69" y="491.90" width="0.01" height="12.80" fill="rgb(182,182,182)"/>
<rect x="35.60" y="504.70" width="87.10" height="3.20" fill="url(#grad)"/>
<rect x="35.60" y="508.10" width="91.60" height="26.30" fill="#fff" stroke="#d4d4d4" stroke-width="0.4"/>
<path d="M35.60 508.70 Q36.40 519.90 50.41 520.30 L81.76 520.50 C109.63 521.30 120.96 523.00 122.70 533.20 L122.70 520.50 L35.60 520.50 Z" fill="#c6c6c6"/>
<line x1="35.60" y1="520.50" x2="122.70" y2="520.50" stroke="#bdbdbd" stroke-width="0.5"/>
<text x="34.40" y="511.30" font-size="2.70" fill="#999" text-anchor="end">10</text>
<text x="34.40" y="516.00" font-size="2.70" fill="#999" text-anchor="end">5</text>
<text x="34.40" y="520.70" font-size="2.70" fill="#999" text-anchor="end">0</text>
<text x="34.40" y="525.40" font-size="2.70" fill="#999" text-anchor="end">-5</text>
<text x="34.40" y="530.10" font-size="2.70" fill="#999" text-anchor="end">-10</text>
<text x="0" y="0" font-size="2.9" fill="#888" text-anchor="middle" transform="translate(29.50 521.25) rotate(-90)">Ranked list metric (PreRanked)</text>
<text x="37.10" y="510.50" font-size="2.60" fill="#e0607a">'na_pos' (positively correlated)</text>
<text x="83.50" y="519.90" font-size="2.40" fill="#888">Zero cross at 6747</text>
<text x="81.76" y="533.80" font-size="2.60" fill="#8080c8">'na_neg' (negatively correlated)</text>
<text x="36.00" y="518.50" font-size="7.90" fill="#d42a3c" textLength="38.50" lengthAdjust="spacingAndGlyphs" stroke="#d42a3c" stroke-width="0.42">EN2 in-vivo</text>
<text x="124.60" y="530.50" font-size="7.80" fill="#22609c" textLength="45.60" lengthAdjust="spacingAndGlyphs" stroke="#22609c" stroke-width="0.42" text-anchor="end">Empty vector</text>
<text x="35.60" y="538.20" font-size="2.20" fill="#999" text-anchor="middle">0</text>
<text x="43.70" y="538.20" font-size="2.20" fill="#999" text-anchor="middle">1,000</text>
<text x="51.80" y="538.20" font-size="2.20" fill="#999" text-anchor="middle">2,000</text>
<text x="59.90" y="538.20" font-size="2.20" fill="#999" text-anchor="middle">3,000</text>
<text x="68.00" y="538.20" font-size="2.20" fill="#999" text-anchor="middle">4,000</text>
<text x="76.10" y="538.20" font-size="2.20" fill="#999" text-anchor="middle">5,000</text>
<text x="84.20" y="538.20" font-size="2.20" fill="#999" text-anchor="middle">6,000</text>
<text x="92.30" y="538.20" font-size="2.20" fill="#999" text-anchor="middle">7,000</text>
<text x="100.40" y="538.20" font-size="2.20" fill="#999" text-anchor="middle">8,000</text>
<text x="108.50" y="538.20" font-size="2.20" fill="#999" text-anchor="middle">9,000</text>
<text x="116.60" y="538.20" font-size="2.20" fill="#999" text-anchor="middle">10,000</text>
<text x="124.70" y="538.20" font-size="2.20" fill="#999" text-anchor="middle">11,000</text>
<text x="79.15" y="541.60" font-size="2.80" fill="#888" text-anchor="middle">Rank in Ordered Dataset</text>
<rect x="40.10" y="544.40" width="73.50" height="4.9" fill="#fff" stroke="#a0a0a0" stroke-width="0.4"/>
<line x1="41.30" y1="546.70" x2="43.90" y2="546.70" stroke="#7fc46e" stroke-width="0.5"/>
<text x="44.60" y="547.80" font-size="2.90" fill="#8a8a8a">Enrichment profile</text>
<line x1="70.10" y1="546.70" x2="73.10" y2="546.70" stroke="#666" stroke-width="0.4"/>
<text x="74.10" y="547.80" font-size="2.90" fill="#8a8a8a">Hits</text>
<line x1="88.10" y1="546.70" x2="91.10" y2="546.70" stroke="#aaa" stroke-width="0.4"/>
<text x="92.10" y="547.80" font-size="2.90" fill="#8a8a8a">Ranking metric scores</text>
<rect x="133.80" y="445.50" width="105.40" height="103.60" fill="#eae9d7"/>
<rect x="143.80" y="451.30" width="94.60" height="38.50" fill="#fff" stroke="#d4d4d4" stroke-width="0.4"/>
<line x1="143.80" y1="457.72" x2="238.40" y2="457.72" stroke="#f0f0f0" stroke-width="0.4"/>
<line x1="143.80" y1="464.13" x2="238.40" y2="464.13" stroke="#f0f0f0" stroke-width="0.4"/>
<line x1="143.80" y1="470.55" x2="238.40" y2="470.55" stroke="#f0f0f0" stroke-width="0.4"/>
<line x1="143.80" y1="476.97" x2="238.40" y2="476.97" stroke="#f0f0f0" stroke-width="0.4"/>
<line x1="143.80" y1="483.38" x2="238.40" y2="483.38" stroke="#f0f0f0" stroke-width="0.4"/>
<line x1="143.80" y1="489.30" x2="238.40" y2="489.30" stroke="#cfcfcf" stroke-width="0.4"/>
<text x="142.60" y="453.50" font-size="2.70" fill="#999" text-anchor="end">0.8</text>
<text x="142.60" y="458.10" font-size="2.70" fill="#999" text-anchor="end">0.7</text>
<text x="142.60" y="462.70" font-size="2.70" fill="#999" text-anchor="end">0.6</text>
<text x="142.60" y="467.30" font-size="2.70" fill="#999" text-anchor="end">0.5</text>
<text x="142.60" y="471.90" font-size="2.70" fill="#999" text-anchor="end">0.4</text>
<text x="142.60" y="476.50" font-size="2.70" fill="#999" text-anchor="end">0.3</text>
<text x="142.60" y="481.10" font-size="2.70" fill="#999" text-anchor="end">0.2</text>
<text x="142.60" y="485.70" font-size="2.70" fill="#999" text-anchor="end">0.1</text>
<text x="142.60" y="490.30" font-size="2.70" fill="#999" text-anchor="end">0.0</text>
<text x="0" y="0" font-size="2.9" fill="#888" text-anchor="middle" transform="translate(137.70 470.55) rotate(-90)">Enrichment score (ES)</text>
<text x="186.60" y="449.60" font-size="4.40" fill="#000" textLength="54.80" lengthAdjust="spacingAndGlyphs" stroke="#000" stroke-width="0.15" font-weight="bold" text-anchor="middle">Enrichment plot: T-ALL_UP_zu</text>
<polyline points="144.00,489.00 144.50,475.00 145.30,464.00 146.50,458.00 148.00,455.00 149.60,453.60 152.00,453.10 155.00,453.20 159.20,453.50 165.00,455.50 172.00,459.00 178.50,462.40 188.00,467.50 197.70,473.00 206.00,478.00 215.00,482.60 220.00,484.80 224.60,486.50 229.00,487.80 233.80,489.30" fill="none" stroke="#84c571" stroke-width="1.2" stroke-linejoin="round"/>
<text x="198.40" y="459.40" font-size="7.80" fill="#333" textLength="33.27" lengthAdjust="spacingAndGlyphs" stroke="#333" stroke-width="0.12">NES: 2.23</text>
<text x="198.40" y="469.40" font-size="7.80" fill="#333" textLength="29.21" lengthAdjust="spacingAndGlyphs" stroke="#333" stroke-width="0.12">DFR: 0.0</text>
<text x="198.40" y="479.10" font-size="7.80" fill="#333" textLength="38.29" lengthAdjust="spacingAndGlyphs" stroke="#333" stroke-width="0.12">P.Value: 0.0</text>
<rect x="143.80" y="491.50" width="94.60" height="16.20" fill="#fff" stroke="#d4d4d4" stroke-width="0.4"/>
<rect x="143.80" y="491.70" width="1.25" height="12.80" fill="rgb(61,61,61)"/>
<rect x="146.16" y="491.70" width="1.62" height="12.80" fill="rgb(58,58,58)"/>
<rect x="147.98" y="491.70" width="1.50" height="12.80" fill="rgb(109,109,109)"/>
<rect x="150.70" y="491.70" width="2.05" height="12.80" fill="rgb(91,91,91)"/>
<rect x="153.57" y="491.70" width="1.44" height="12.80" fill="rgb(79,79,79)"/>
<rect x="156.27" y="491.70" width="1.29" height="12.80" fill="rgb(41,41,41)"/>
<rect x="158.83" y="491.70" width="2.11" height="12.80" fill="rgb(104,104,104)"/>
<rect x="161.31" y="491.70" width="1.36" height="12.80" fill="rgb(195,195,195)"/>
<rect x="163.99" y="491.70" width="2.34" height="12.80" fill="rgb(130,130,130)"/>
<rect x="166.55" y="491.70" width="1.81" height="12.80" fill="rgb(134,134,134)"/>
<rect x="169.17" y="491.70" width="1.17" height="12.80" fill="rgb(156,156,156)"/>
<rect x="170.82" y="491.70" width="2.32" height="12.80" fill="rgb(175,175,175)"/>
<rect x="174.42" y="491.70" width="0.91" height="12.80" fill="rgb(109,109,109)"/>
<rect x="176.23" y="491.70" width="2.22" height="12.80" fill="rgb(165,165,165)"/>
<rect x="178.83" y="491.70" width="1.54" height="12.80" fill="rgb(108,108,108)"/>
<rect x="181.07" y="491.70" width="1.14" height="12.80" fill="rgb(113,113,113)"/>
<rect x="182.67" y="491.70" width="2.10" height="12.80" fill="rgb(55,55,55)"/>
<rect x="184.93" y="491.70" width="1.84" height="12.80" fill="rgb(106,106,106)"/>
<rect x="187.60" y="491.70" width="1.87" height="12.80" fill="rgb(122,122,122)"/>
<rect x="189.77" y="491.70" width="1.91" height="12.80" fill="rgb(62,62,62)"/>
<rect x="192.59" y="491.70" width="1.20" height="12.80" fill="rgb(206,206,206)"/>
<rect x="194.74" y="491.70" width="1.18" height="12.80" fill="rgb(156,156,156)"/>
<rect x="197.38" y="491.70" width="1.38" height="12.80" fill="rgb(187,187,187)"/>
<rect x="199.30" y="491.70" width="1.39" height="12.80" fill="rgb(60,60,60)"/>
<rect x="202.09" y="491.70" width="1.32" height="12.80" fill="rgb(194,194,194)"/>
<rect x="204.65" y="491.70" width="1.26" height="12.80" fill="rgb(129,129,129)"/>
<rect x="207.70" y="491.70" width="1.34" height="12.80" fill="rgb(51,51,51)"/>
<rect x="209.31" y="491.70" width="1.95" height="12.80" fill="rgb(118,118,118)"/>
<rect x="212.70" y="491.70" width="2.34" height="12.80" fill="rgb(49,49,49)"/>
<rect x="215.79" y="491.70" width="1.38" height="12.80" fill="rgb(84,84,84)"/>
<rect x="218.69" y="491.70" width="1.52" height="12.80" fill="rgb(203,203,203)"/>
<rect x="221.56" y="491.70" width="1.02" height="12.80" fill="rgb(203,203,203)"/>
<rect x="223.11" y="491.70" width="1.57" height="12.80" fill="rgb(79,79,79)"/>
<rect x="225.30" y="491.70" width="1.80" height="12.80" fill="rgb(85,85,85)"/>
<rect x="227.86" y="491.70" width="0.91" height="12.80" fill="rgb(56,56,56)"/>
<rect x="229.75" y="491.70" width="1.45" height="12.80" fill="rgb(137,137,137)"/>
<rect x="143.80" y="504.50" width="90.00" height="3.20" fill="url(#grad)"/>
<rect x="143.80" y="507.90" width="94.60" height="26.30" fill="#fff" stroke="#d4d4d4" stroke-width="0.4"/>
<path d="M143.80 508.50 Q144.60 519.70 159.10 520.10 L191.50 520.30 C220.30 521.10 232.00 522.80 233.80 533.00 L233.80 520.30 L143.80 520.30 Z" fill="#c6c6c6"/>
<line x1="143.80" y1="520.30" x2="233.80" y2="520.30" stroke="#bdbdbd" stroke-width="0.5"/>
<text x="142.60" y="511.10" font-size="2.70" fill="#999" text-anchor="end">10</text>
<text x="142.60" y="515.80" font-size="2.70" fill="#999" text-anchor="end">5</text>
<text x="142.60" y="520.50" font-size="2.70" fill="#999" text-anchor="end">0</text>
<text x="142.60" y="525.20" font-size="2.70" fill="#999" text-anchor="end">-5</text>
<text x="142.60" y="529.90" font-size="2.70" fill="#999" text-anchor="end">-10</text>
<text x="0" y="0" font-size="2.9" fill="#888" text-anchor="middle" transform="translate(137.70 521.05) rotate(-90)">Ranked list metric (PreRanked)</text>
<text x="145.30" y="510.30" font-size="2.60" fill="#e0607a">'na_pos' (positively correlated)</text>
<text x="193.30" y="519.70" font-size="2.40" fill="#888">Zero cross at 6747</text>
<text x="191.50" y="533.60" font-size="2.60" fill="#8080c8">'na_neg' (negatively correlated)</text>
<text x="147.60" y="519.00" font-size="7.90" fill="#d42a3c" textLength="25.40" lengthAdjust="spacingAndGlyphs" stroke="#d42a3c" stroke-width="0.42">EN2+N</text>
<text x="236.50" y="530.50" font-size="7.80" fill="#22609c" textLength="45.60" lengthAdjust="spacingAndGlyphs" stroke="#22609c" stroke-width="0.42" text-anchor="end">Empty vector</text>
<text x="143.80" y="538.00" font-size="2.20" fill="#999" text-anchor="middle">0</text>
<text x="152.16" y="538.00" font-size="2.20" fill="#999" text-anchor="middle">1,000</text>
<text x="160.53" y="538.00" font-size="2.20" fill="#999" text-anchor="middle">2,000</text>
<text x="168.89" y="538.00" font-size="2.20" fill="#999" text-anchor="middle">3,000</text>
<text x="177.25" y="538.00" font-size="2.20" fill="#999" text-anchor="middle">4,000</text>
<text x="185.62" y="538.00" font-size="2.20" fill="#999" text-anchor="middle">5,000</text>
<text x="193.98" y="538.00" font-size="2.20" fill="#999" text-anchor="middle">6,000</text>
<text x="202.35" y="538.00" font-size="2.20" fill="#999" text-anchor="middle">7,000</text>
<text x="210.71" y="538.00" font-size="2.20" fill="#999" text-anchor="middle">8,000</text>
<text x="219.07" y="538.00" font-size="2.20" fill="#999" text-anchor="middle">9,000</text>
<text x="227.44" y="538.00" font-size="2.20" fill="#999" text-anchor="middle">10,000</text>
<text x="235.80" y="538.00" font-size="2.20" fill="#999" text-anchor="middle">11,000</text>
<text x="188.80" y="541.40" font-size="2.80" fill="#888" text-anchor="middle">Rank in Ordered Dataset</text>
<rect x="150.80" y="544.20" width="73.50" height="4.9" fill="#fff" stroke="#a0a0a0" stroke-width="0.4"/>
<line x1="152.00" y1="546.50" x2="154.60" y2="546.50" stroke="#7fc46e" stroke-width="0.5"/>
<text x="155.30" y="547.60" font-size="2.90" fill="#8a8a8a">Enrichment profile</text>
<line x1="180.80" y1="546.50" x2="183.80" y2="546.50" stroke="#666" stroke-width="0.4"/>
<text x="184.80" y="547.60" font-size="2.90" fill="#8a8a8a">Hits</text>
<line x1="198.80" y1="546.50" x2="201.80" y2="546.50" stroke="#aaa" stroke-width="0.4"/>
<text x="202.80" y="547.60" font-size="2.90" fill="#8a8a8a">Ranking metric scores</text>
<rect x="244.10" y="445.30" width="106.30" height="103.80" fill="#f4f5f7"/>
<rect x="257.60" y="451.10" width="92.00" height="38.50" fill="#fff" stroke="#d4d4d4" stroke-width="0.4"/>
<line x1="257.60" y1="457.52" x2="349.60" y2="457.52" stroke="#f0f0f0" stroke-width="0.4"/>
<line x1="257.60" y1="463.93" x2="349.60" y2="463.93" stroke="#f0f0f0" stroke-width="0.4"/>
<line x1="257.60" y1="470.35" x2="349.60" y2="470.35" stroke="#f0f0f0" stroke-width="0.4"/>
<line x1="257.60" y1="476.77" x2="349.60" y2="476.77" stroke="#f0f0f0" stroke-width="0.4"/>
<line x1="257.60" y1="483.18" x2="349.60" y2="483.18" stroke="#f0f0f0" stroke-width="0.4"/>
<line x1="257.60" y1="484.50" x2="349.60" y2="484.50" stroke="#cfcfcf" stroke-width="0.4"/>
<text x="256.40" y="453.30" font-size="2.70" fill="#999" text-anchor="end">0.8</text>
<text x="256.40" y="457.32" font-size="2.70" fill="#999" text-anchor="end">0.7</text>
<text x="256.40" y="461.35" font-size="2.70" fill="#999" text-anchor="end">0.6</text>
<text x="256.40" y="465.38" font-size="2.70" fill="#999" text-anchor="end">0.5</text>
<text x="256.40" y="469.40" font-size="2.70" fill="#999" text-anchor="end">0.4</text>
<text x="256.40" y="473.43" font-size="2.70" fill="#999" text-anchor="end">0.3</text>
<text x="256.40" y="477.45" font-size="2.70" fill="#999" text-anchor="end">0.2</text>
<text x="256.40" y="481.47" font-size="2.70" fill="#999" text-anchor="end">0.1</text>
<text x="256.40" y="485.50" font-size="2.70" fill="#999" text-anchor="end">0.0</text>
<text x="0" y="0" font-size="2.9" fill="#888" text-anchor="middle" transform="translate(251.50 470.35) rotate(-90)">Enrichment score (ES)</text>
<text x="296.60" y="449.40" font-size="4.40" fill="#000" textLength="54.80" lengthAdjust="spacingAndGlyphs" stroke="#000" stroke-width="0.15" font-weight="bold" text-anchor="middle">Enrichment plot: T-ALL_UP_zu</text>
<polyline points="257.80,483.60 258.20,472.00 258.80,463.00 259.70,457.00 261.00,454.50 263.00,453.60 266.00,453.30 269.00,453.60 271.20,454.00 276.00,455.60 283.00,458.50 290.50,462.40 298.00,467.50 305.80,473.00 312.00,477.50 319.30,482.60 324.00,485.50 328.90,487.40 334.70,489.00 338.00,488.50 340.50,487.40 342.50,486.50 344.30,484.50" fill="none" stroke="#84c571" stroke-width="1.2" stroke-linejoin="round"/>
<text x="306.00" y="459.30" font-size="7.80" fill="#333" textLength="33.27" lengthAdjust="spacingAndGlyphs" stroke="#333" stroke-width="0.12">NES: 1.68</text>
<text x="306.00" y="469.40" font-size="7.80" fill="#333" textLength="29.21" lengthAdjust="spacingAndGlyphs" stroke="#333" stroke-width="0.12">DFR: 0.0</text>
<text x="306.00" y="479.30" font-size="7.80" fill="#333" textLength="38.29" lengthAdjust="spacingAndGlyphs" stroke="#333" stroke-width="0.12">P.Value: 0.0</text>
<rect x="257.60" y="491.30" width="92.00" height="16.20" fill="#fff" stroke="#d4d4d4" stroke-width="0.4"/>
<rect x="257.60" y="491.50" width="1.83" height="12.80" fill="rgb(126,126,126)"/>
<rect x="260.65" y="491.50" width="2.31" height="12.80" fill="rgb(201,201,201)"/>
<rect x="264.35" y="491.50" width="0.94" height="12.80" fill="rgb(154,154,154)"/>
<rect x="266.48" y="491.50" width="1.27" height="12.80" fill="rgb(48,48,48)"/>
<rect x="269.12" y="491.50" width="1.07" height="12.80" fill="rgb(155,155,155)"/>
<rect x="271.50" y="491.50" width="1.47" height="12.80" fill="rgb(61,61,61)"/>
<rect x="273.88" y="491.50" width="0.92" height="12.80" fill="rgb(90,90,90)"/>
<rect x="275.47" y="491.50" width="1.17" height="12.80" fill="rgb(134,134,134)"/>
<rect x="276.97" y="491.50" width="2.10" height="12.80" fill="rgb(70,70,70)"/>
<rect x="280.03" y="491.50" width="1.57" height="12.80" fill="rgb(68,68,68)"/>
<rect x="281.70" y="491.50" width="2.21" height="12.80" fill="rgb(88,88,88)"/>
<rect x="285.09" y="491.50" width="2.34" height="12.80" fill="rgb(77,77,77)"/>
<rect x="288.75" y="491.50" width="1.33" height="12.80" fill="rgb(85,85,85)"/>
<rect x="290.94" y="491.50" width="1.92" height="12.80" fill="rgb(87,87,87)"/>
<rect x="293.21" y="491.50" width="2.35" height="12.80" fill="rgb(85,85,85)"/>
<rect x="297.01" y="491.50" width="2.24" height="12.80" fill="rgb(111,111,111)"/>
<rect x="299.38" y="491.50" width="1.52" height="12.80" fill="rgb(72,72,72)"/>
<rect x="301.38" y="491.50" width="1.40" height="12.80" fill="rgb(199,199,199)"/>
<rect x="303.97" y="491.50" width="1.79" height="12.80" fill="rgb(131,131,131)"/>
<rect x="306.08" y="491.50" width="1.43" height="12.80" fill="rgb(123,123,123)"/>
<rect x="308.53" y="491.50" width="1.37" height="12.80" fill="rgb(168,168,168)"/>
<rect x="310.90" y="491.50" width="1.16" height="12.80" fill="rgb(110,110,110)"/>
<rect x="313.93" y="491.50" width="0.93" height="12.80" fill="rgb(136,136,136)"/>
<rect x="316.50" y="491.50" width="0.93" height="12.80" fill="rgb(152,152,152)"/>
<rect x="318.25" y="491.50" width="1.77" height="12.80" fill="rgb(47,47,47)"/>
<rect x="320.98" y="491.50" width="1.96" height="12.80" fill="rgb(204,204,204)"/>
<rect x="324.77" y="491.50" width="1.19" height="12.80" fill="rgb(107,107,107)"/>
<rect x="327.74" y="491.50" width="2.31" height="12.80" fill="rgb(133,133,133)"/>
<rect x="331.13" y="491.50" width="2.24" height="12.80" fill="rgb(109,109,109)"/>
<rect x="334.89" y="491.50" width="1.06" height="12.80" fill="rgb(139,139,139)"/>
<rect x="337.61" y="491.50" width="0.95" height="12.80" fill="rgb(68,68,68)"/>
<rect x="339.12" y="491.50" width="1.67" height="12.80" fill="rgb(137,137,137)"/>
<rect x="342.55" y="491.50" width="0.65" height="12.80" fill="rgb(184,184,184)"/>
<rect x="257.60" y="504.30" width="86.60" height="3.20" fill="url(#grad)"/>
<rect x="257.60" y="507.70" width="92.00" height="26.30" fill="#fff" stroke="#d4d4d4" stroke-width="0.4"/>
<path d="M257.60 508.30 Q258.40 519.50 272.32 519.90 L303.50 520.10 C331.21 520.90 342.47 522.60 344.20 532.80 L344.20 520.10 L257.60 520.10 Z" fill="#c6c6c6"/>
<line x1="257.60" y1="520.10" x2="344.20" y2="520.10" stroke="#bdbdbd" stroke-width="0.5"/>
<text x="256.40" y="510.90" font-size="2.70" fill="#999" text-anchor="end">10</text>
<text x="256.40" y="515.60" font-size="2.70" fill="#999" text-anchor="end">5</text>
<text x="256.40" y="520.30" font-size="2.70" fill="#999" text-anchor="end">0</text>
<text x="256.40" y="525.00" font-size="2.70" fill="#999" text-anchor="end">-5</text>
<text x="256.40" y="529.70" font-size="2.70" fill="#999" text-anchor="end">-10</text>
<text x="0" y="0" font-size="2.9" fill="#888" text-anchor="middle" transform="translate(251.50 520.85) rotate(-90)">Ranked list metric (PreRanked)</text>
<text x="259.10" y="510.10" font-size="2.60" fill="#e0607a">'na_pos' (positively correlated)</text>
<text x="305.23" y="519.50" font-size="2.40" fill="#888">Zero cross at 6747</text>
<text x="303.50" y="533.40" font-size="2.60" fill="#8080c8">'na_neg' (negatively correlated)</text>
<text x="260.00" y="518.50" font-size="7.90" fill="#d42a3c" textLength="32.70" lengthAdjust="spacingAndGlyphs" stroke="#d42a3c" stroke-width="0.42">EN2-PDX</text>
<text x="349.20" y="530.50" font-size="7.80" fill="#22609c" textLength="45.60" lengthAdjust="spacingAndGlyphs" stroke="#22609c" stroke-width="0.42" text-anchor="end">Empty vector</text>
<text x="257.60" y="537.80" font-size="2.20" fill="#999" text-anchor="middle">0</text>
<text x="265.65" y="537.80" font-size="2.20" fill="#999" text-anchor="middle">1,000</text>
<text x="273.71" y="537.80" font-size="2.20" fill="#999" text-anchor="middle">2,000</text>
<text x="281.76" y="537.80" font-size="2.20" fill="#999" text-anchor="middle">3,000</text>
<text x="289.82" y="537.80" font-size="2.20" fill="#999" text-anchor="middle">4,000</text>
<text x="297.87" y="537.80" font-size="2.20" fill="#999" text-anchor="middle">5,000</text>
<text x="305.93" y="537.80" font-size="2.20" fill="#999" text-anchor="middle">6,000</text>
<text x="313.98" y="537.80" font-size="2.20" fill="#999" text-anchor="middle">7,000</text>
<text x="322.04" y="537.80" font-size="2.20" fill="#999" text-anchor="middle">8,000</text>
<text x="330.09" y="537.80" font-size="2.20" fill="#999" text-anchor="middle">9,000</text>
<text x="338.15" y="537.80" font-size="2.20" fill="#999" text-anchor="middle">10,000</text>
<text x="346.20" y="537.80" font-size="2.20" fill="#999" text-anchor="middle">11,000</text>
<text x="300.90" y="541.20" font-size="2.80" fill="#888" text-anchor="middle">Rank in Ordered Dataset</text>
<rect x="261.10" y="544.00" width="73.50" height="4.9" fill="#fff" stroke="#a0a0a0" stroke-width="0.4"/>
<line x1="262.30" y1="546.30" x2="264.90" y2="546.30" stroke="#7fc46e" stroke-width="0.5"/>
<text x="265.60" y="547.40" font-size="2.90" fill="#8a8a8a">Enrichment profile</text>
<line x1="291.10" y1="546.30" x2="294.10" y2="546.30" stroke="#666" stroke-width="0.4"/>
<text x="295.10" y="547.40" font-size="2.90" fill="#8a8a8a">Hits</text>
<line x1="309.10" y1="546.30" x2="312.10" y2="546.30" stroke="#aaa" stroke-width="0.4"/>
<text x="313.10" y="547.40" font-size="2.90" fill="#8a8a8a">Ranking metric scores</text>
<rect x="23.80" y="556.00" width="104.50" height="105.00" fill="#eae9d7"/>
<rect x="33.80" y="561.80" width="93.70" height="38.50" fill="#fff" stroke="#d4d4d4" stroke-width="0.4"/>
<line x1="33.80" y1="568.22" x2="127.50" y2="568.22" stroke="#f0f0f0" stroke-width="0.4"/>
<line x1="33.80" y1="574.63" x2="127.50" y2="574.63" stroke="#f0f0f0" stroke-width="0.4"/>
<line x1="33.80" y1="581.05" x2="127.50" y2="581.05" stroke="#f0f0f0" stroke-width="0.4"/>
<line x1="33.80" y1="587.47" x2="127.50" y2="587.47" stroke="#f0f0f0" stroke-width="0.4"/>
<line x1="33.80" y1="593.88" x2="127.50" y2="593.88" stroke="#f0f0f0" stroke-width="0.4"/>
<line x1="33.80" y1="599.80" x2="127.50" y2="599.80" stroke="#cfcfcf" stroke-width="0.4"/>
<text x="32.60" y="564.00" font-size="2.70" fill="#999" text-anchor="end">0.8</text>
<text x="32.60" y="568.60" font-size="2.70" fill="#999" text-anchor="end">0.7</text>
<text x="32.60" y="573.20" font-size="2.70" fill="#999" text-anchor="end">0.6</text>
<text x="32.60" y="577.80" font-size="2.70" fill="#999" text-anchor="end">0.5</text>
<text x="32.60" y="582.40" font-size="2.70" fill="#999" text-anchor="end">0.4</text>
<text x="32.60" y="587.00" font-size="2.70" fill="#999" text-anchor="end">0.3</text>
<text x="32.60" y="591.60" font-size="2.70" fill="#999" text-anchor="end">0.2</text>
<text x="32.60" y="596.20" font-size="2.70" fill="#999" text-anchor="end">0.1</text>
<text x="32.60" y="600.80" font-size="2.70" fill="#999" text-anchor="end">0.0</text>
<text x="0" y="0" font-size="2.9" fill="#888" text-anchor="middle" transform="translate(27.70 581.05) rotate(-90)">Enrichment score (ES)</text>
<text x="74.60" y="560.10" font-size="4.40" fill="#000" textLength="93.00" lengthAdjust="spacingAndGlyphs" stroke="#000" stroke-width="0.15" font-weight="bold" text-anchor="middle">Enrichment plot: GSE8835_BCELL_VS_MYELOID_UP</text>
<polyline points="33.90,600.00 34.30,585.00 35.00,574.00 36.20,567.50 38.00,565.00 40.00,564.10 42.50,563.80 45.50,564.20 49.20,565.00 58.00,568.20 68.50,572.40 78.00,577.00 87.70,582.00 97.00,587.00 106.90,592.60 111.00,595.30 114.60,597.40 118.00,598.70 121.90,599.50" fill="none" stroke="#84c571" stroke-width="1.2" stroke-linejoin="round"/>
<text x="85.60" y="570.00" font-size="7.80" fill="#333" textLength="29.21" lengthAdjust="spacingAndGlyphs" stroke="#333" stroke-width="0.12">NES: 2.3</text>
<text x="85.60" y="580.30" font-size="7.80" fill="#333" textLength="29.21" lengthAdjust="spacingAndGlyphs" stroke="#333" stroke-width="0.12">DFR: 0.0</text>
<text x="85.60" y="589.50" font-size="7.80" fill="#333" textLength="38.29" lengthAdjust="spacingAndGlyphs" stroke="#333" stroke-width="0.12">P.Value: 0.0</text>
<rect x="33.80" y="602.00" width="93.70" height="16.20" fill="#fff" stroke="#d4d4d4" stroke-width="0.4"/>
<rect x="33.80" y="602.20" width="2.09" height="12.80" fill="rgb(20,20,20)"/>
<rect x="36.08" y="602.20" width="1.29" height="12.80" fill="rgb(10,10,10)"/>
<rect x="37.43" y="602.20" width="1.78" height="12.80" fill="rgb(57,57,57)"/>
<rect x="39.34" y="602.20" width="0.93" height="12.80" fill="rgb(72,72,72)"/>
<rect x="40.60" y="602.20" width="1.99" height="12.80" fill="rgb(62,62,62)"/>
<rect x="42.95" y="602.20" width="1.71" height="12.80" fill="rgb(22,22,22)"/>
<rect x="44.74" y="602.20" width="1.73" height="12.80" fill="rgb(117,117,117)"/>
<rect x="48.03" y="602.20" width="1.82" height="12.80" fill="rgb(72,72,72)"/>
<rect x="51.75" y="602.20" width="1.40" height="12.80" fill="rgb(73,73,73)"/>
<rect x="54.14" y="602.20" width="1.51" height="12.80" fill="rgb(114,114,114)"/>
<rect x="56.80" y="602.20" width="1.04" height="12.80" fill="rgb(100,100,100)"/>
<rect x="59.47" y="602.20" width="2.09" height="12.80" fill="rgb(74,74,74)"/>
<rect x="63.68" y="602.20" width="1.78" height="12.80" fill="rgb(101,101,101)"/>
<rect x="67.33" y="602.20" width="2.27" height="12.80" fill="rgb(174,174,174)"/>
<rect x="71.67" y="602.20" width="2.26" height="12.80" fill="rgb(181,181,181)"/>
<rect x="75.33" y="602.20" width="2.36" height="12.80" fill="rgb(178,178,178)"/>
<rect x="79.84" y="602.20" width="0.94" height="12.80" fill="rgb(142,142,142)"/>
<rect x="81.55" y="602.20" width="1.54" height="12.80" fill="rgb(141,141,141)"/>
<rect x="84.51" y="602.20" width="1.03" height="12.80" fill="rgb(184,184,184)"/>
<rect x="86.23" y="602.20" width="1.81" height="12.80" fill="rgb(118,118,118)"/>
<rect x="88.93" y="602.20" width="1.19" height="12.80" fill="rgb(183,183,183)"/>
<rect x="91.18" y="602.20" width="1.80" height="12.80" fill="rgb(193,193,193)"/>
<rect x="93.51" y="602.20" width="2.07" height="12.80" fill="rgb(64,64,64)"/>
<rect x="97.70" y="602.20" width="1.74" height="12.80" fill="rgb(138,138,138)"/>
<rect x="100.87" y="602.20" width="1.69" height="12.80" fill="rgb(134,134,134)"/>
<rect x="103.38" y="602.20" width="2.40" height="12.80" fill="rgb(73,73,73)"/>
<rect x="106.74" y="602.20" width="1.79" height="12.80" fill="rgb(161,161,161)"/>
<rect x="109.27" y="602.20" width="1.56" height="12.80" fill="rgb(82,82,82)"/>
<rect x="113.57" y="602.20" width="1.91" height="12.80" fill="rgb(174,174,174)"/>
<rect x="117.09" y="602.20" width="2.15" height="12.80" fill="rgb(79,79,79)"/>
<rect x="33.80" y="615.00" width="88.00" height="3.20" fill="url(#grad)"/>
<rect x="33.80" y="618.40" width="93.70" height="26.60" fill="#fff" stroke="#d4d4d4" stroke-width="0.4"/>
<path d="M33.80 619.00 Q34.60 630.20 48.76 630.60 L80.44 630.80 C108.60 631.60 120.04 633.30 121.80 643.80 L121.80 630.80 L33.80 630.80 Z" fill="#c6c6c6"/>
<line x1="33.80" y1="630.80" x2="121.80" y2="630.80" stroke="#bdbdbd" stroke-width="0.5"/>
<text x="32.60" y="621.60" font-size="2.70" fill="#999" text-anchor="end">10</text>
<text x="32.60" y="626.30" font-size="2.70" fill="#999" text-anchor="end">5</text>
<text x="32.60" y="631.00" font-size="2.70" fill="#999" text-anchor="end">0</text>
<text x="32.60" y="635.70" font-size="2.70" fill="#999" text-anchor="end">-5</text>
<text x="32.60" y="640.40" font-size="2.70" fill="#999" text-anchor="end">-10</text>
<text x="0" y="0" font-size="2.9" fill="#888" text-anchor="middle" transform="translate(27.70 631.70) rotate(-90)">Ranked list metric (PreRanked)</text>
<text x="35.30" y="620.80" font-size="2.60" fill="#e0607a">'na_pos' (positively correlated)</text>
<text x="82.20" y="630.20" font-size="2.40" fill="#888">Zero cross at 6747</text>
<text x="80.44" y="644.40" font-size="2.60" fill="#8080c8">'na_neg' (negatively correlated)</text>
<text x="37.00" y="629.20" font-size="7.90" fill="#d42a3c" textLength="38.70" lengthAdjust="spacingAndGlyphs" stroke="#d42a3c" stroke-width="0.42">EN2 in-vivo</text>
<text x="126.00" y="640.80" font-size="7.80" fill="#22609c" textLength="45.60" lengthAdjust="spacingAndGlyphs" stroke="#22609c" stroke-width="0.42" text-anchor="end">Empty vector</text>
<text x="33.80" y="648.80" font-size="2.20" fill="#999" text-anchor="middle">0</text>
<text x="41.98" y="648.80" font-size="2.20" fill="#999" text-anchor="middle">1,000</text>
<text x="50.16" y="648.80" font-size="2.20" fill="#999" text-anchor="middle">2,000</text>
<text x="58.35" y="648.80" font-size="2.20" fill="#999" text-anchor="middle">3,000</text>
<text x="66.53" y="648.80" font-size="2.20" fill="#999" text-anchor="middle">4,000</text>
<text x="74.71" y="648.80" font-size="2.20" fill="#999" text-anchor="middle">5,000</text>
<text x="82.89" y="648.80" font-size="2.20" fill="#999" text-anchor="middle">6,000</text>
<text x="91.07" y="648.80" font-size="2.20" fill="#999" text-anchor="middle">7,000</text>
<text x="99.25" y="648.80" font-size="2.20" fill="#999" text-anchor="middle">8,000</text>
<text x="107.44" y="648.80" font-size="2.20" fill="#999" text-anchor="middle">9,000</text>
<text x="115.62" y="648.80" font-size="2.20" fill="#999" text-anchor="middle">10,000</text>
<text x="123.80" y="648.80" font-size="2.20" fill="#999" text-anchor="middle">11,000</text>
<text x="77.80" y="652.20" font-size="2.80" fill="#888" text-anchor="middle">Rank in Ordered Dataset</text>
<rect x="40.80" y="655.00" width="73.50" height="4.9" fill="#fff" stroke="#a0a0a0" stroke-width="0.4"/>
<line x1="42.00" y1="657.30" x2="44.60" y2="657.30" stroke="#7fc46e" stroke-width="0.5"/>
<text x="45.30" y="658.40" font-size="2.90" fill="#8a8a8a">Enrichment profile</text>
<line x1="70.80" y1="657.30" x2="73.80" y2="657.30" stroke="#666" stroke-width="0.4"/>
<text x="74.80" y="658.40" font-size="2.90" fill="#8a8a8a">Hits</text>
<line x1="88.80" y1="657.30" x2="91.80" y2="657.30" stroke="#aaa" stroke-width="0.4"/>
<text x="92.80" y="658.40" font-size="2.90" fill="#8a8a8a">Ranking metric scores</text>
<rect x="133.80" y="556.00" width="105.00" height="105.00" fill="#f4f5f7"/>
<rect x="147.20" y="561.80" width="90.80" height="38.50" fill="#fff" stroke="#d4d4d4" stroke-width="0.4"/>
<line x1="147.20" y1="568.22" x2="238.00" y2="568.22" stroke="#f0f0f0" stroke-width="0.4"/>
<line x1="147.20" y1="574.63" x2="238.00" y2="574.63" stroke="#f0f0f0" stroke-width="0.4"/>
<line x1="147.20" y1="581.05" x2="238.00" y2="581.05" stroke="#f0f0f0" stroke-width="0.4"/>
<line x1="147.20" y1="587.47" x2="238.00" y2="587.47" stroke="#f0f0f0" stroke-width="0.4"/>
<line x1="147.20" y1="593.88" x2="238.00" y2="593.88" stroke="#f0f0f0" stroke-width="0.4"/>
<line x1="147.20" y1="592.60" x2="238.00" y2="592.60" stroke="#cfcfcf" stroke-width="0.4"/>
<text x="146.00" y="564.00" font-size="2.70" fill="#999" text-anchor="end">0.8</text>
<text x="146.00" y="567.70" font-size="2.70" fill="#999" text-anchor="end">0.7</text>
<text x="146.00" y="571.40" font-size="2.70" fill="#999" text-anchor="end">0.6</text>
<text x="146.00" y="575.10" font-size="2.70" fill="#999" text-anchor="end">0.5</text>
<text x="146.00" y="578.80" font-size="2.70" fill="#999" text-anchor="end">0.4</text>
<text x="146.00" y="582.50" font-size="2.70" fill="#999" text-anchor="end">0.3</text>
<text x="146.00" y="586.20" font-size="2.70" fill="#999" text-anchor="end">0.2</text>
<text x="146.00" y="589.90" font-size="2.70" fill="#999" text-anchor="end">0.1</text>
<text x="146.00" y="593.60" font-size="2.70" fill="#999" text-anchor="end">0.0</text>
<text x="0" y="0" font-size="2.9" fill="#888" text-anchor="middle" transform="translate(141.10 581.05) rotate(-90)">Enrichment score (ES)</text>
<text x="186.60" y="560.10" font-size="4.40" fill="#000" textLength="94.00" lengthAdjust="spacingAndGlyphs" stroke="#000" stroke-width="0.15" font-weight="bold" text-anchor="middle">Enrichment plot: GSE8835_BCELL_VS_MYELOID_UP</text>
<polyline points="147.50,590.00 147.90,580.00 148.60,572.00 149.70,567.00 151.50,565.20 154.00,564.20 157.30,563.40 162.00,564.80 168.80,567.60 178.00,571.80 188.00,576.30 198.00,581.50 207.30,586.80 214.00,591.00 220.80,595.50 224.00,597.50 227.50,599.00 229.50,599.30 231.30,597.40 233.00,595.00 234.20,592.60" fill="none" stroke="#84c571" stroke-width="1.2" stroke-linejoin="round"/>
<text x="196.80" y="571.00" font-size="7.80" fill="#333" textLength="29.21" lengthAdjust="spacingAndGlyphs" stroke="#333" stroke-width="0.12">NES: 1.9</text>
<text x="196.80" y="581.00" font-size="7.80" fill="#333" textLength="29.21" lengthAdjust="spacingAndGlyphs" stroke="#333" stroke-width="0.12">DFR: 0.0</text>
<text x="196.80" y="590.80" font-size="7.80" fill="#333" textLength="38.29" lengthAdjust="spacingAndGlyphs" stroke="#333" stroke-width="0.12">P.Value: 0.0</text>
<rect x="147.20" y="602.00" width="90.80" height="16.20" fill="#fff" stroke="#d4d4d4" stroke-width="0.4"/>
<rect x="147.20" y="602.20" width="1.39" height="12.80" fill="rgb(73,73,73)"/>
<rect x="149.24" y="602.20" width="0.97" height="12.80" fill="rgb(172,172,172)"/>
<rect x="150.44" y="602.20" width="1.77" height="12.80" fill="rgb(164,164,164)"/>
<rect x="152.62" y="602.20" width="1.03" height="12.80" fill="rgb(142,142,142)"/>
<rect x="153.84" y="602.20" width="1.04" height="12.80" fill="rgb(143,143,143)"/>
<rect x="155.06" y="602.20" width="1.75" height="12.80" fill="rgb(92,92,92)"/>
<rect x="157.79" y="602.20" width="1.77" height="12.80" fill="rgb(50,50,50)"/>
<rect x="160.48" y="602.20" width="1.50" height="12.80" fill="rgb(91,91,91)"/>
<rect x="162.14" y="602.20" width="2.19" height="12.80" fill="rgb(109,109,109)"/>
<rect x="165.01" y="602.20" width="1.71" height="12.80" fill="rgb(181,181,181)"/>
<rect x="167.25" y="602.20" width="2.12" height="12.80" fill="rgb(81,81,81)"/>
<rect x="169.62" y="602.20" width="1.76" height="12.80" fill="rgb(83,83,83)"/>
<rect x="172.00" y="602.20" width="1.72" height="12.80" fill="rgb(51,51,51)"/>
<rect x="174.61" y="602.20" width="1.83" height="12.80" fill="rgb(162,162,162)"/>
<rect x="177.49" y="602.20" width="1.54" height="12.80" fill="rgb(115,115,115)"/>
<rect x="179.79" y="602.20" width="2.29" height="12.80" fill="rgb(127,127,127)"/>
<rect x="182.59" y="602.20" width="2.09" height="12.80" fill="rgb(97,97,97)"/>
<rect x="184.90" y="602.20" width="1.35" height="12.80" fill="rgb(161,161,161)"/>
<rect x="187.57" y="602.20" width="1.99" height="12.80" fill="rgb(108,108,108)"/>
<rect x="190.52" y="602.20" width="1.01" height="12.80" fill="rgb(176,176,176)"/>
<rect x="192.44" y="602.20" width="2.04" height="12.80" fill="rgb(83,83,83)"/>
<rect x="196.26" y="602.20" width="1.53" height="12.80" fill="rgb(64,64,64)"/>
<rect x="199.30" y="602.20" width="1.76" height="12.80" fill="rgb(125,125,125)"/>
<rect x="201.83" y="602.20" width="1.43" height="12.80" fill="rgb(172,172,172)"/>
<rect x="204.44" y="602.20" width="1.58" height="12.80" fill="rgb(68,68,68)"/>
<rect x="207.83" y="602.20" width="1.61" height="12.80" fill="rgb(215,215,215)"/>
<rect x="209.76" y="602.20" width="2.00" height="12.80" fill="rgb(124,124,124)"/>
<rect x="213.05" y="602.20" width="2.39" height="12.80" fill="rgb(159,159,159)"/>
<rect x="216.13" y="602.20" width="1.48" height="12.80" fill="rgb(133,133,133)"/>
<rect x="217.84" y="602.20" width="1.59" height="12.80" fill="rgb(88,88,88)"/>
<rect x="220.67" y="602.20" width="1.64" height="12.80" fill="rgb(100,100,100)"/>
<rect x="223.82" y="602.20" width="1.09" height="12.80" fill="rgb(108,108,108)"/>
<rect x="225.79" y="602.20" width="2.28" height="12.80" fill="rgb(172,172,172)"/>
<rect x="228.40" y="602.20" width="1.57" height="12.80" fill="rgb(185,185,185)"/>
<rect x="230.65" y="602.20" width="1.11" height="12.80" fill="rgb(155,155,155)"/>
<rect x="147.20" y="615.00" width="86.60" height="3.20" fill="url(#grad)"/>
<rect x="147.20" y="618.40" width="90.80" height="26.60" fill="#fff" stroke="#d4d4d4" stroke-width="0.4"/>
<path d="M147.20 619.00 Q148.00 630.20 161.92 630.60 L193.10 630.80 C220.81 631.60 232.07 633.30 233.80 643.80 L233.80 630.80 L147.20 630.80 Z" fill="#c6c6c6"/>
<line x1="147.20" y1="630.80" x2="233.80" y2="630.80" stroke="#bdbdbd" stroke-width="0.5"/>
<text x="146.00" y="621.60" font-size="2.70" fill="#999" text-anchor="end">10</text>
<text x="146.00" y="626.30" font-size="2.70" fill="#999" text-anchor="end">5</text>
<text x="146.00" y="631.00" font-size="2.70" fill="#999" text-anchor="end">0</text>
<text x="146.00" y="635.70" font-size="2.70" fill="#999" text-anchor="end">-5</text>
<text x="146.00" y="640.40" font-size="2.70" fill="#999" text-anchor="end">-10</text>
<text x="0" y="0" font-size="2.9" fill="#888" text-anchor="middle" transform="translate(141.10 631.70) rotate(-90)">Ranked list metric (PreRanked)</text>
<text x="148.70" y="620.80" font-size="2.60" fill="#e0607a">'na_pos' (positively correlated)</text>
<text x="194.83" y="630.20" font-size="2.40" fill="#888">Zero cross at 6747</text>
<text x="193.10" y="644.40" font-size="2.60" fill="#8080c8">'na_neg' (negatively correlated)</text>
<text x="146.50" y="630.40" font-size="7.90" fill="#d42a3c" textLength="25.30" lengthAdjust="spacingAndGlyphs" stroke="#d42a3c" stroke-width="0.42">EN2+N</text>
<text x="235.30" y="642.60" font-size="7.80" fill="#22609c" textLength="45.60" lengthAdjust="spacingAndGlyphs" stroke="#22609c" stroke-width="0.42" text-anchor="end">Empty vector</text>
<text x="147.20" y="648.80" font-size="2.20" fill="#999" text-anchor="middle">0</text>
<text x="155.25" y="648.80" font-size="2.20" fill="#999" text-anchor="middle">1,000</text>
<text x="163.31" y="648.80" font-size="2.20" fill="#999" text-anchor="middle">2,000</text>
<text x="171.36" y="648.80" font-size="2.20" fill="#999" text-anchor="middle">3,000</text>
<text x="179.42" y="648.80" font-size="2.20" fill="#999" text-anchor="middle">4,000</text>
<text x="187.47" y="648.80" font-size="2.20" fill="#999" text-anchor="middle">5,000</text>
<text x="195.53" y="648.80" font-size="2.20" fill="#999" text-anchor="middle">6,000</text>
<text x="203.58" y="648.80" font-size="2.20" fill="#999" text-anchor="middle">7,000</text>
<text x="211.64" y="648.80" font-size="2.20" fill="#999" text-anchor="middle">8,000</text>
<text x="219.69" y="648.80" font-size="2.20" fill="#999" text-anchor="middle">9,000</text>
<text x="227.75" y="648.80" font-size="2.20" fill="#999" text-anchor="middle">10,000</text>
<text x="235.80" y="648.80" font-size="2.20" fill="#999" text-anchor="middle">11,000</text>
<text x="190.50" y="652.20" font-size="2.80" fill="#888" text-anchor="middle">Rank in Ordered Dataset</text>
<rect x="150.80" y="655.00" width="73.50" height="4.9" fill="#fff" stroke="#a0a0a0" stroke-width="0.4"/>
<line x1="152.00" y1="657.30" x2="154.60" y2="657.30" stroke="#7fc46e" stroke-width="0.5"/>
<text x="155.30" y="658.40" font-size="2.90" fill="#8a8a8a">Enrichment profile</text>
<line x1="180.80" y1="657.30" x2="183.80" y2="657.30" stroke="#666" stroke-width="0.4"/>
<text x="184.80" y="658.40" font-size="2.90" fill="#8a8a8a">Hits</text>
<line x1="198.80" y1="657.30" x2="201.80" y2="657.30" stroke="#aaa" stroke-width="0.4"/>
<text x="202.80" y="658.40" font-size="2.90" fill="#8a8a8a">Ranking metric scores</text>
<rect x="244.90" y="556.00" width="104.30" height="105.00" fill="#eae9d7"/>
<rect x="255.60" y="561.80" width="92.80" height="38.50" fill="#fff" stroke="#d4d4d4" stroke-width="0.4"/>
<line x1="255.60" y1="568.22" x2="348.40" y2="568.22" stroke="#f0f0f0" stroke-width="0.4"/>
<line x1="255.60" y1="574.63" x2="348.40" y2="574.63" stroke="#f0f0f0" stroke-width="0.4"/>
<line x1="255.60" y1="581.05" x2="348.40" y2="581.05" stroke="#f0f0f0" stroke-width="0.4"/>
<line x1="255.60" y1="587.47" x2="348.40" y2="587.47" stroke="#f0f0f0" stroke-width="0.4"/>
<line x1="255.60" y1="593.88" x2="348.40" y2="593.88" stroke="#f0f0f0" stroke-width="0.4"/>
<line x1="255.60" y1="594.50" x2="348.40" y2="594.50" stroke="#cfcfcf" stroke-width="0.4"/>
<text x="254.40" y="564.00" font-size="2.70" fill="#999" text-anchor="end">0.8</text>
<text x="254.40" y="567.94" font-size="2.70" fill="#999" text-anchor="end">0.7</text>
<text x="254.40" y="571.88" font-size="2.70" fill="#999" text-anchor="end">0.6</text>
<text x="254.40" y="575.81" font-size="2.70" fill="#999" text-anchor="end">0.5</text>
<text x="254.40" y="579.75" font-size="2.70" fill="#999" text-anchor="end">0.4</text>
<text x="254.40" y="583.69" font-size="2.70" fill="#999" text-anchor="end">0.3</text>
<text x="254.40" y="587.62" font-size="2.70" fill="#999" text-anchor="end">0.2</text>
<text x="254.40" y="591.56" font-size="2.70" fill="#999" text-anchor="end">0.1</text>
<text x="254.40" y="595.50" font-size="2.70" fill="#999" text-anchor="end">0.0</text>
<text x="0" y="0" font-size="2.9" fill="#888" text-anchor="middle" transform="translate(249.50 581.05) rotate(-90)">Enrichment score (ES)</text>
<text x="296.00" y="560.10" font-size="4.40" fill="#000" textLength="93.00" lengthAdjust="spacingAndGlyphs" stroke="#000" stroke-width="0.15" font-weight="bold" text-anchor="middle">Enrichment plot: GSE8835_BCELL_VS_MYELOID_UP</text>
<polyline points="255.80,595.50 256.20,584.00 256.90,575.00 258.00,569.00 259.50,565.50 261.50,564.00 263.50,563.60 265.40,563.80 270.00,565.00 278.80,568.60 288.00,573.20 298.00,578.20 308.00,583.50 317.30,588.80 323.00,592.80 328.80,596.50 333.00,598.30 336.50,599.00 339.00,598.90 341.30,598.40 343.00,596.80 344.20,594.50" fill="none" stroke="#84c571" stroke-width="1.2" stroke-linejoin="round"/>
<text x="306.80" y="570.00" font-size="7.80" fill="#333" textLength="33.27" lengthAdjust="spacingAndGlyphs" stroke="#333" stroke-width="0.12">NES: 1.71</text>
<text x="306.80" y="580.30" font-size="7.80" fill="#333" textLength="29.21" lengthAdjust="spacingAndGlyphs" stroke="#333" stroke-width="0.12">DFR: 0.0</text>
<text x="306.80" y="589.80" font-size="7.80" fill="#333" textLength="38.29" lengthAdjust="spacingAndGlyphs" stroke="#333" stroke-width="0.12">P.Value: 0.0</text>
<rect x="255.60" y="602.00" width="92.80" height="16.20" fill="#fff" stroke="#d4d4d4" stroke-width="0.4"/>
<rect x="255.60" y="602.20" width="1.24" height="12.80" fill="rgb(131,131,131)"/>
<rect x="257.12" y="602.20" width="1.96" height="12.80" fill="rgb(56,56,56)"/>
<rect x="259.37" y="602.20" width="2.12" height="12.80" fill="rgb(164,164,164)"/>
<rect x="261.88" y="602.20" width="1.86" height="12.80" fill="rgb(152,152,152)"/>
<rect x="264.52" y="602.20" width="1.49" height="12.80" fill="rgb(181,181,181)"/>
<rect x="266.38" y="602.20" width="2.15" height="12.80" fill="rgb(57,57,57)"/>
<rect x="269.30" y="602.20" width="2.04" height="12.80" fill="rgb(103,103,103)"/>
<rect x="272.17" y="602.20" width="1.61" height="12.80" fill="rgb(132,132,132)"/>
<rect x="274.90" y="602.20" width="1.89" height="12.80" fill="rgb(59,59,59)"/>
<rect x="278.28" y="602.20" width="0.99" height="12.80" fill="rgb(193,193,193)"/>
<rect x="280.53" y="602.20" width="1.06" height="12.80" fill="rgb(49,49,49)"/>
<rect x="282.17" y="602.20" width="1.94" height="12.80" fill="rgb(162,162,162)"/>
<rect x="285.47" y="602.20" width="1.68" height="12.80" fill="rgb(88,88,88)"/>
<rect x="288.06" y="602.20" width="1.11" height="12.80" fill="rgb(51,51,51)"/>
<rect x="290.03" y="602.20" width="0.96" height="12.80" fill="rgb(84,84,84)"/>
<rect x="291.29" y="602.20" width="2.19" height="12.80" fill="rgb(151,151,151)"/>
<rect x="294.60" y="602.20" width="2.22" height="12.80" fill="rgb(108,108,108)"/>
<rect x="297.71" y="602.20" width="2.18" height="12.80" fill="rgb(144,144,144)"/>
<rect x="300.18" y="602.20" width="2.05" height="12.80" fill="rgb(69,69,69)"/>
<rect x="303.33" y="602.20" width="1.37" height="12.80" fill="rgb(136,136,136)"/>
<rect x="306.51" y="602.20" width="2.17" height="12.80" fill="rgb(173,173,173)"/>
<rect x="309.94" y="602.20" width="1.36" height="12.80" fill="rgb(136,136,136)"/>
<rect x="312.40" y="602.20" width="1.66" height="12.80" fill="rgb(63,63,63)"/>
<rect x="315.64" y="602.20" width="2.19" height="12.80" fill="rgb(184,184,184)"/>
<rect x="318.40" y="602.20" width="1.27" height="12.80" fill="rgb(48,48,48)"/>
<rect x="320.37" y="602.20" width="1.23" height="12.80" fill="rgb(53,53,53)"/>
<rect x="322.52" y="602.20" width="1.47" height="12.80" fill="rgb(151,151,151)"/>
<rect x="324.48" y="602.20" width="1.49" height="12.80" fill="rgb(87,87,87)"/>
<rect x="327.76" y="602.20" width="2.18" height="12.80" fill="rgb(51,51,51)"/>
<rect x="330.48" y="602.20" width="2.05" height="12.80" fill="rgb(121,121,121)"/>
<rect x="332.93" y="602.20" width="2.09" height="12.80" fill="rgb(142,142,142)"/>
<rect x="335.80" y="602.20" width="1.16" height="12.80" fill="rgb(156,156,156)"/>
<rect x="338.70" y="602.20" width="1.11" height="12.80" fill="rgb(189,189,189)"/>
<rect x="340.77" y="602.20" width="1.53" height="12.80" fill="rgb(195,195,195)"/>
<rect x="342.61" y="602.20" width="0.59" height="12.80" fill="rgb(53,53,53)"/>
<rect x="255.60" y="615.00" width="88.60" height="3.20" fill="url(#grad)"/>
<rect x="255.60" y="618.40" width="92.80" height="26.60" fill="#fff" stroke="#d4d4d4" stroke-width="0.4"/>
<path d="M255.60 619.00 Q256.40 630.20 270.66 630.60 L302.56 630.80 C330.91 631.60 342.43 633.30 344.20 643.80 L344.20 630.80 L255.60 630.80 Z" fill="#c6c6c6"/>
<line x1="255.60" y1="630.80" x2="344.20" y2="630.80" stroke="#bdbdbd" stroke-width="0.5"/>
<text x="254.40" y="621.60" font-size="2.70" fill="#999" text-anchor="end">10</text>
<text x="254.40" y="626.30" font-size="2.70" fill="#999" text-anchor="end">5</text>
<text x="254.40" y="631.00" font-size="2.70" fill="#999" text-anchor="end">0</text>
<text x="254.40" y="635.70" font-size="2.70" fill="#999" text-anchor="end">-5</text>
<text x="254.40" y="640.40" font-size="2.70" fill="#999" text-anchor="end">-10</text>
<text x="0" y="0" font-size="2.9" fill="#888" text-anchor="middle" transform="translate(249.50 631.70) rotate(-90)">Ranked list metric (PreRanked)</text>
<text x="257.10" y="620.80" font-size="2.60" fill="#e0607a">'na_pos' (positively correlated)</text>
<text x="304.33" y="630.20" font-size="2.40" fill="#888">Zero cross at 6747</text>
<text x="302.56" y="644.40" font-size="2.60" fill="#8080c8">'na_neg' (negatively correlated)</text>
<text x="261.00" y="630.00" font-size="7.90" fill="#d42a3c" textLength="32.00" lengthAdjust="spacingAndGlyphs" stroke="#d42a3c" stroke-width="0.42">EN2-PDX</text>
<text x="350.00" y="641.50" font-size="7.80" fill="#22609c" textLength="45.60" lengthAdjust="spacingAndGlyphs" stroke="#22609c" stroke-width="0.42" text-anchor="end">Empty vector</text>
<text x="255.60" y="648.80" font-size="2.20" fill="#999" text-anchor="middle">0</text>
<text x="263.84" y="648.80" font-size="2.20" fill="#999" text-anchor="middle">1,000</text>
<text x="272.07" y="648.80" font-size="2.20" fill="#999" text-anchor="middle">2,000</text>
<text x="280.31" y="648.80" font-size="2.20" fill="#999" text-anchor="middle">3,000</text>
<text x="288.55" y="648.80" font-size="2.20" fill="#999" text-anchor="middle">4,000</text>
<text x="296.78" y="648.80" font-size="2.20" fill="#999" text-anchor="middle">5,000</text>
<text x="305.02" y="648.80" font-size="2.20" fill="#999" text-anchor="middle">6,000</text>
<text x="313.25" y="648.80" font-size="2.20" fill="#999" text-anchor="middle">7,000</text>
<text x="321.49" y="648.80" font-size="2.20" fill="#999" text-anchor="middle">8,000</text>
<text x="329.73" y="648.80" font-size="2.20" fill="#999" text-anchor="middle">9,000</text>
<text x="337.96" y="648.80" font-size="2.20" fill="#999" text-anchor="middle">10,000</text>
<text x="346.20" y="648.80" font-size="2.20" fill="#999" text-anchor="middle">11,000</text>
<text x="299.90" y="652.20" font-size="2.80" fill="#888" text-anchor="middle">Rank in Ordered Dataset</text>
<rect x="261.90" y="655.00" width="73.50" height="4.9" fill="#fff" stroke="#a0a0a0" stroke-width="0.4"/>
<line x1="263.10" y1="657.30" x2="265.70" y2="657.30" stroke="#7fc46e" stroke-width="0.5"/>
<text x="266.40" y="658.40" font-size="2.90" fill="#8a8a8a">Enrichment profile</text>
<line x1="291.90" y1="657.30" x2="294.90" y2="657.30" stroke="#666" stroke-width="0.4"/>
<text x="295.90" y="658.40" font-size="2.90" fill="#8a8a8a">Hits</text>
<line x1="309.90" y1="657.30" x2="312.90" y2="657.30" stroke="#aaa" stroke-width="0.4"/>
<text x="313.90" y="658.40" font-size="2.90" fill="#8a8a8a">Ranking metric scores</text>
<rect x="0.6" y="0.6" width="518.8" height="666.8" fill="none" stroke="#1a1517" stroke-width="1.2"/>
</svg>
</body></html>
